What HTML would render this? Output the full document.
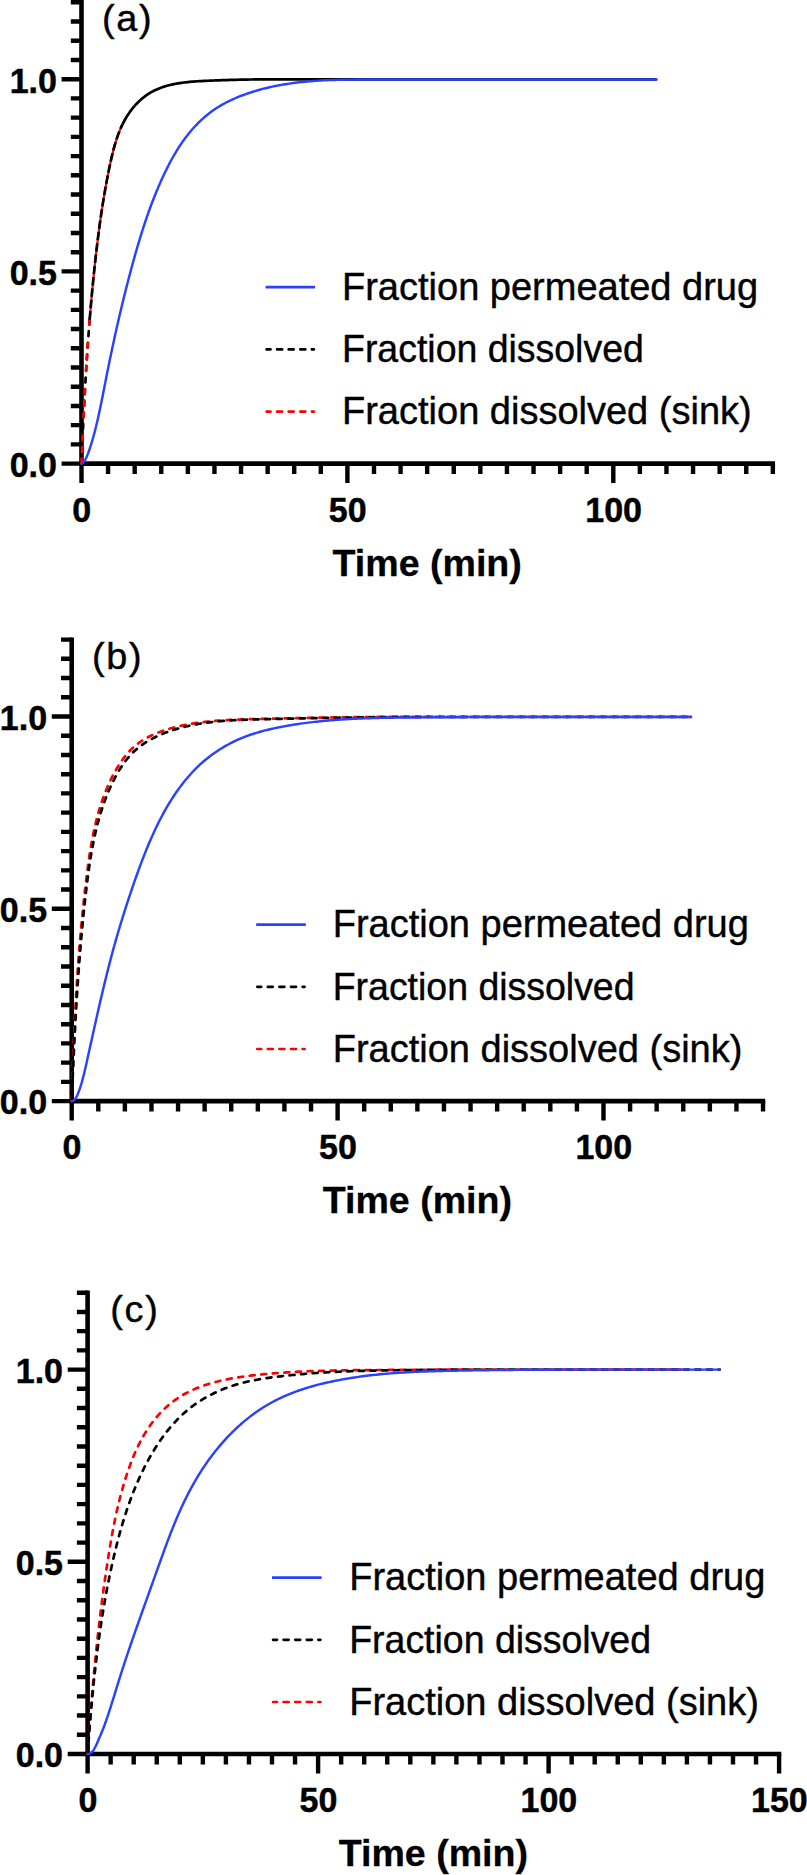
<!DOCTYPE html><html><head><meta charset="utf-8"><title>Dissolution and permeation profiles</title>
<style>html,body{margin:0;padding:0;background:#fff}svg{display:block}text{font-family:"Liberation Sans", Arial, Helvetica, sans-serif;fill:#000}.tk{font-weight:700;font-size:35.8px;stroke:#000;stroke-width:.5px}.ti{font-weight:700;font-size:37.6px;stroke:#000;stroke-width:.3px}.lg{font-size:38px;stroke:#000;stroke-width:.4px}.pl{font-size:37.8px;letter-spacing:1.7px;stroke:#000;stroke-width:.4px}</style></head><body>
<svg width="807" height="1875" viewBox="0 0 807 1875" role="img" aria-label="Fraction dissolved and permeated versus time, panels a to c">
<rect width="807" height="1875" fill="#fff"/>
<g>
<g stroke="#000" fill="none" stroke-linecap="butt">
<path stroke-width="4.60" d="M81.50 0.12 V465.90"/>
<path stroke-width="4.60" d="M79.20 463.60 H775.04"/>
<path stroke-width="4.40" d="M81.50 463.60 H61.60M81.50 444.38 H70.80M81.50 425.16 H70.80M81.50 405.94 H70.80M81.50 386.72 H70.80M81.50 367.50 H70.80M81.50 348.28 H70.80M81.50 329.06 H70.80M81.50 309.84 H70.80M81.50 290.62 H70.80M81.50 271.40 H61.60M81.50 252.18 H70.80M81.50 232.96 H70.80M81.50 213.74 H70.80M81.50 194.52 H70.80M81.50 175.30 H70.80M81.50 156.08 H70.80M81.50 136.86 H70.80M81.50 117.64 H70.80M81.50 98.42 H70.80M81.50 79.20 H61.60M81.50 59.98 H70.80M81.50 40.76 H70.80M81.50 21.54 H70.80M81.50 2.32 H70.80M81.50 463.60 V483.00M108.09 463.60 V474.00M134.68 463.60 V474.00M161.27 463.60 V474.00M187.86 463.60 V474.00M214.45 463.60 V474.00M241.04 463.60 V474.00M267.63 463.60 V474.00M294.22 463.60 V474.00M320.81 463.60 V474.00M347.40 463.60 V483.00M373.99 463.60 V474.00M400.58 463.60 V474.00M427.17 463.60 V474.00M453.76 463.60 V474.00M480.35 463.60 V474.00M506.94 463.60 V474.00M533.53 463.60 V474.00M560.12 463.60 V474.00M586.71 463.60 V474.00M613.30 463.60 V483.00M639.89 463.60 V474.00M666.48 463.60 V474.00M693.07 463.60 V474.00M719.66 463.60 V474.00M746.25 463.60 V474.00M772.84 463.60 V474.00"/>
</g>
<path d="M81.50 463.60 L81.58 461.60 L81.66 459.60 L81.75 457.59 L81.83 455.59 L81.92 453.59 L82.00 451.59 L82.09 449.58 L82.17 447.58 L82.26 445.58 L82.34 443.58 L82.43 441.58 L82.52 439.57 L82.61 437.57 L82.70 435.57 L82.79 433.57 L82.88 431.57 L82.97 429.56 L83.06 427.56 L83.16 425.56 L83.25 423.56 L83.35 421.56 L83.44 419.56 L83.54 417.55 L83.64 415.55 L83.74 413.55 L83.84 411.55 L83.94 409.55 L84.04 407.55 L84.14 405.55 L84.24 403.54 L84.35 401.54 L84.45 399.54 L84.56 397.54 L84.67 395.54 L84.77 393.54 L84.88 391.54 L84.99 389.54 L85.10 387.54 L85.22 385.53 L85.33 383.53 L85.45 381.53 L85.56 379.53 L85.68 377.53 L85.80 375.53 L85.92 373.53 L86.04 371.53 L86.16 369.53 L86.29 367.53 L86.41 365.53 L86.54 363.53 L86.66 361.53 L86.79 359.53 L86.92 357.53 L87.06 355.53 L87.19 353.53 L87.32 351.53 L87.46 349.53 L87.60 347.53 L87.74 345.53 L87.88 343.54 L88.02 341.54 L88.16 339.54 L88.31 337.54 L88.46 335.54 L88.60 333.54 L88.75 331.54 L88.91 329.55 L89.06 327.55 L89.21 325.55 L89.37 323.55 L89.53 321.55 L89.69 319.56" fill="none" stroke="#000000" stroke-width="2.70" stroke-dasharray="5 6.6" stroke-linecap="round"/>
<path d="M81.50 463.60 L81.58 461.60 L81.66 459.60 L81.75 457.59 L81.83 455.59 L81.92 453.59 L82.00 451.59 L82.09 449.58 L82.17 447.58 L82.26 445.58 L82.34 443.58 L82.43 441.58 L82.52 439.57 L82.61 437.57 L82.70 435.57 L82.79 433.57 L82.88 431.57 L82.97 429.56 L83.06 427.56 L83.16 425.56 L83.25 423.56 L83.35 421.56 L83.44 419.56 L83.54 417.55 L83.64 415.55 L83.74 413.55 L83.84 411.55 L83.94 409.55 L84.04 407.55 L84.14 405.55 L84.24 403.54 L84.35 401.54 L84.45 399.54 L84.56 397.54 L84.67 395.54 L84.77 393.54 L84.88 391.54 L84.99 389.54 L85.10 387.54 L85.22 385.53 L85.33 383.53 L85.45 381.53 L85.56 379.53 L85.68 377.53 L85.80 375.53 L85.92 373.53 L86.04 371.53 L86.16 369.53 L86.29 367.53 L86.41 365.53 L86.54 363.53 L86.66 361.53 L86.79 359.53 L86.92 357.53 L87.06 355.53 L87.19 353.53 L87.32 351.53 L87.46 349.53 L87.60 347.53 L87.74 345.53 L87.88 343.54 L88.02 341.54 L88.16 339.54 L88.31 337.54 L88.46 335.54 L88.60 333.54 L88.75 331.54 L88.91 329.55 L89.06 327.55 L89.21 325.55 L89.37 323.55 L89.53 321.55 L89.69 319.56" fill="none" stroke="#ff0000" stroke-width="2.60" stroke-dasharray="5 6.6 5 6.6 5 18.2" stroke-linecap="round"/>
<path d="M89.69 319.56 L89.85 317.56 L90.01 315.56 L90.18 313.56 L90.35 311.57 L90.52 309.57 L90.69 307.57 L90.86 305.58 L91.03 303.58 L91.21 301.59 L91.39 299.59 L91.57 297.59 L91.75 295.60 L91.94 293.60 L92.12 291.61 L92.31 289.61 L92.50 287.62 L92.69 285.62 L92.89 283.63 L93.08 281.63 L93.28 279.64 L93.48 277.65 L93.69 275.65 L93.89 273.66 L94.10 271.67 L94.31 269.67 L94.52 267.68 L94.74 265.69 L94.95 263.69 L95.17 261.70 L95.39 259.71 L95.61 257.72 L95.84 255.73 L96.07 253.74 L96.30 251.75 L96.53 249.76 L96.77 247.77 L97.00 245.78 L97.24 243.79 L97.49 241.80 L97.73 239.81 L97.98 237.82 L98.23 235.83 L98.49 233.84 L98.75 231.86 L99.01 229.87 L99.27 227.88 L99.54 225.90 L99.81 223.91 L100.09 221.93 L100.37 219.94 L100.65 217.96 L100.94 215.98 L101.23 213.99 L101.52 212.01 L101.82 210.03 L102.12 208.05 L102.43 206.07 L102.74 204.09 L103.06 202.11 L103.38 200.13 L103.70 198.15 L104.03 196.18 L104.37 194.20 L104.71 192.23 L105.05 190.25 L105.40 188.28 L105.76 186.31 L106.11 184.34 L106.48 182.36 L106.85 180.40 L107.22 178.43 L107.61 176.46 L107.99 174.49 L108.38 172.53 L108.78 170.56 L109.18 168.60 L109.59 166.64 L110.01 164.68 L110.43 162.72 L110.86 160.76 L111.29 158.81 L111.74 156.85 L112.20 154.90 L112.67 152.95 L113.16 151.01 L113.66 149.07 L114.18 147.13 L114.72 145.20 L115.28 143.28 L115.86 141.36 L116.47 139.45 L117.10 137.55 L117.76 135.66 L118.46 133.78 L119.18 131.91 L119.93 130.05 L120.71 128.21 L121.54 126.38 L122.39 124.57" fill="none" stroke="#ff0000" stroke-width="2.20"/>
<path d="M89.69 319.56 L89.85 317.56 L90.01 315.56 L90.18 313.56 L90.35 311.57 L90.52 309.57 L90.69 307.57 L90.86 305.58 L91.03 303.58 L91.21 301.59 L91.39 299.59 L91.57 297.59 L91.75 295.60 L91.94 293.60 L92.12 291.61 L92.31 289.61 L92.50 287.62 L92.69 285.62 L92.89 283.63 L93.08 281.63 L93.28 279.64 L93.48 277.65 L93.69 275.65 L93.89 273.66 L94.10 271.67 L94.31 269.67 L94.52 267.68 L94.74 265.69 L94.95 263.69 L95.17 261.70 L95.39 259.71 L95.61 257.72 L95.84 255.73 L96.07 253.74 L96.30 251.75 L96.53 249.76 L96.77 247.77 L97.00 245.78 L97.24 243.79 L97.49 241.80 L97.73 239.81 L97.98 237.82 L98.23 235.83 L98.49 233.84 L98.75 231.86 L99.01 229.87 L99.27 227.88 L99.54 225.90 L99.81 223.91 L100.09 221.93 L100.37 219.94 L100.65 217.96 L100.94 215.98 L101.23 213.99 L101.52 212.01 L101.82 210.03 L102.12 208.05 L102.43 206.07 L102.74 204.09 L103.06 202.11 L103.38 200.13 L103.70 198.15 L104.03 196.18 L104.37 194.20 L104.71 192.23 L105.05 190.25 L105.40 188.28 L105.76 186.31 L106.11 184.34 L106.48 182.36 L106.85 180.40 L107.22 178.43 L107.61 176.46 L107.99 174.49 L108.38 172.53 L108.78 170.56 L109.18 168.60 L109.59 166.64 L110.01 164.68 L110.43 162.72 L110.86 160.76 L111.29 158.81 L111.74 156.85 L112.20 154.90 L112.67 152.95 L113.16 151.01 L113.66 149.07 L114.18 147.13 L114.72 145.20 L115.28 143.28 L115.86 141.36 L116.47 139.45 L117.10 137.55 L117.76 135.66 L118.46 133.78 L119.18 131.91 L119.93 130.05 L120.71 128.21 L121.54 126.38 L122.39 124.57" fill="none" stroke="#000000" stroke-width="2.70" stroke-dasharray="8.4 3"/>
<path d="M122.39 124.57 L123.29 122.78 L124.22 121.00 L125.20 119.25 L126.21 117.52 L127.26 115.82 L128.36 114.14 L129.49 112.49 L130.67 110.86 L131.88 109.27 L133.13 107.71 L134.43 106.18 L135.76 104.68 L137.14 103.22 L138.55 101.81 L140.01 100.43 L141.50 99.09 L143.04 97.81 L144.61 96.57 L146.23 95.38 L147.89 94.25 L149.58 93.18 L151.31 92.17 L153.07 91.21 L154.86 90.31 L156.68 89.47 L158.52 88.69 L160.39 87.95 L162.27 87.27 L164.17 86.64 L166.09 86.05 L168.02 85.51 L169.96 85.01 L171.91 84.56 L173.87 84.14 L175.84 83.75 L177.81 83.40 L179.79 83.08 L181.77 82.79 L183.76 82.53 L185.75 82.29 L187.74 82.07 L189.73 81.88 L191.73 81.70 L193.73 81.54 L195.73 81.40 L197.73 81.27 L199.73 81.15 L201.73 81.04 L203.73 80.94 L205.73 80.84 L207.73 80.76 L209.73 80.67 L211.74 80.59 L213.74 80.51 L215.74 80.43 L217.74 80.36 L219.75 80.29 L221.75 80.22 L223.75 80.15 L225.76 80.09 L227.76 80.03 L229.76 79.97 L231.77 79.91 L233.77 79.86 L235.77 79.81 L237.78 79.76 L239.78 79.71 L241.78 79.67 L243.79 79.63 L245.79 79.59 L247.79 79.55 L249.80 79.52 L251.80 79.48 L253.80 79.45 L255.81 79.42 L257.81 79.40 L259.82 79.40 L261.82 79.39 L263.82 79.39 L265.83 79.39 L267.83 79.39 L269.84 79.39 L271.84 79.40 L273.84 79.40 L275.85 79.40 L277.85 79.40 L279.85 79.40 L281.86 79.40 L283.86 79.40 L285.87 79.40 L287.87 79.40 L289.87 79.40 L291.88 79.40 L293.88 79.40 L295.89 79.40 L297.89 79.40 L299.89 79.40 L301.90 79.40 L303.90 79.40 L305.91 79.40 L307.91 79.40 L309.91 79.40 L311.92 79.40 L313.92 79.40 L315.93 79.40 L317.93 79.40 L319.93 79.40 L321.94 79.40 L323.94 79.40 L325.95 79.40 L327.95 79.40 L329.95 79.40 L331.96 79.40 L333.96 79.40 L335.97 79.40 L337.97 79.40 L339.97 79.40 L341.98 79.40 L343.98 79.40 L345.99 79.40 L347.99 79.40 L349.99 79.40 L352.00 79.40 L354.00 79.40 L356.01 79.40 L358.01 79.40 L360.01 79.40 L362.02 79.40 L364.02 79.40 L366.03 79.40 L368.03 79.40 L370.03 79.40 L372.04 79.40 L374.04 79.40 L376.05 79.40 L378.05 79.40 L380.05 79.40 L382.06 79.40 L384.06 79.40 L386.06 79.40 L388.07 79.40 L390.07 79.40 L392.08 79.40 L394.08 79.40 L396.08 79.40 L398.09 79.40 L400.09 79.40 L402.10 79.40 L404.10 79.40 L406.10 79.40 L408.11 79.40 L410.11 79.40 L412.12 79.40 L414.12 79.40 L416.12 79.40 L418.13 79.40 L420.13 79.40 L422.14 79.40 L424.14 79.40 L426.14 79.40 L428.15 79.40 L430.15 79.40 L432.16 79.40 L434.16 79.40 L436.16 79.40 L438.17 79.40 L440.17 79.40 L442.18 79.40 L444.18 79.40 L446.18 79.40 L448.19 79.40 L450.19 79.40 L452.20 79.40 L454.20 79.40 L456.20 79.40 L458.21 79.40 L460.21 79.40 L462.22 79.40 L464.22 79.40 L466.22 79.40 L468.23 79.40 L470.23 79.40 L472.24 79.40 L474.24 79.40 L476.24 79.40 L478.25 79.40 L480.25 79.40 L482.26 79.40 L484.26 79.40 L486.26 79.40 L488.27 79.40 L490.27 79.40 L492.27 79.40 L494.28 79.40 L496.28 79.40 L498.29 79.40 L500.29 79.40 L502.29 79.40 L504.30 79.40 L506.30 79.40 L508.31 79.40 L510.31 79.40 L512.31 79.40 L514.32 79.40 L516.32 79.40 L518.33 79.40 L520.33 79.40 L522.33 79.40 L524.34 79.40 L526.34 79.40 L528.35 79.40 L530.35 79.40 L532.35 79.40 L534.36 79.40 L536.36 79.40 L538.37 79.40 L540.37 79.40 L542.37 79.40 L544.38 79.40 L546.38 79.40 L548.39 79.40 L550.39 79.40 L552.39 79.40 L554.40 79.40 L556.40 79.40 L558.41 79.40 L560.41 79.40 L562.41 79.40 L564.42 79.40 L566.42 79.40 L568.43 79.40 L570.43 79.40 L572.43 79.40 L574.44 79.40 L576.44 79.40 L578.45 79.40 L580.45 79.40 L582.45 79.40 L584.46 79.40 L586.46 79.40 L588.47 79.40 L590.47 79.40 L592.47 79.40 L594.48 79.40 L596.48 79.40 L598.48 79.40 L600.49 79.40 L602.49 79.40 L604.50 79.40 L606.50 79.40 L608.50 79.40 L610.51 79.40 L612.51 79.40 L614.52 79.40 L616.52 79.40 L618.52 79.40 L620.53 79.40 L622.53 79.40 L624.54 79.40 L626.54 79.40 L628.54 79.40 L630.55 79.40 L632.55 79.40 L634.56 79.40 L636.56 79.40 L638.56 79.40 L640.57 79.40 L642.57 79.40 L644.58 79.40 L646.58 79.40 L648.58 79.40 L650.59 79.40 L652.59 79.40 L654.60 79.40 L656.60 79.40" fill="none" stroke="#000000" stroke-width="2.70"/>
<path d="M81.50 463.60 L81.90 463.55 L82.30 463.39 L82.71 463.12 L83.13 462.76 L83.56 462.31 L83.99 461.76 L84.42 461.13 L84.87 460.42 L85.31 459.63 L85.76 458.77 L86.21 457.84 L86.66 456.84 L87.12 455.78 L87.58 454.66 L88.03 453.49 L88.49 452.27 L88.95 451.01 L89.40 449.70 L89.86 448.36 L90.31 446.99 L90.76 445.58 L91.20 444.16 L91.64 442.71 L92.08 441.24 L92.51 439.76 L92.94 438.28 L93.36 436.79 L93.77 435.30 L94.17 433.81 L94.57 432.33 L95.08 430.39 L95.57 428.45 L96.05 426.50 L96.52 424.56 L96.98 422.61 L97.43 420.66 L97.87 418.70 L98.31 416.75 L98.74 414.79 L99.17 412.84 L99.59 410.88 L100.00 408.92 L100.41 406.96 L100.82 405.00 L101.22 403.03 L101.61 401.07 L102.01 399.11 L102.40 397.14 L102.79 395.18 L103.18 393.21 L103.56 391.25 L103.95 389.28 L104.33 387.32 L104.72 385.35 L105.10 383.38 L105.49 381.42 L105.87 379.45 L106.26 377.49 L106.65 375.52 L107.04 373.56 L107.44 371.59 L107.83 369.63 L108.23 367.67 L108.62 365.70 L109.02 363.74 L109.43 361.78 L109.83 359.82 L110.24 357.86 L110.65 355.90 L111.06 353.93 L111.47 351.97 L111.88 350.02 L112.30 348.06 L112.72 346.10 L113.14 344.14 L113.56 342.18 L113.98 340.22 L114.41 338.27 L114.84 336.31 L115.27 334.35 L115.71 332.40 L116.14 330.44 L116.58 328.49 L117.02 326.54 L117.46 324.58 L117.91 322.63 L118.36 320.68 L118.81 318.73 L119.26 316.77 L119.71 314.82 L120.17 312.87 L120.63 310.92 L121.09 308.98 L121.56 307.03 L122.03 305.08 L122.50 303.13 L122.97 301.19 L123.45 299.24 L123.92 297.30 L124.41 295.35 L124.89 293.41 L125.38 291.46 L125.86 289.52 L126.36 287.58 L126.85 285.64 L127.35 283.70 L127.85 281.76 L128.35 279.82 L128.86 277.88 L129.37 275.95 L129.88 274.01 L130.39 272.07 L130.91 270.14 L131.43 268.20 L131.95 266.27 L132.48 264.34 L133.01 262.41 L133.54 260.48 L134.08 258.55 L134.62 256.62 L135.16 254.69 L135.71 252.76 L136.26 250.84 L136.82 248.91 L137.38 246.99 L137.94 245.07 L138.51 243.15 L139.09 241.23 L139.67 239.31 L140.25 237.40 L140.84 235.48 L141.44 233.57 L142.04 231.66 L142.65 229.75 L143.26 227.84 L143.88 225.94 L144.50 224.04 L145.14 222.14 L145.77 220.24 L146.42 218.34 L147.07 216.45 L147.73 214.56 L148.40 212.67 L149.07 210.78 L149.75 208.90 L150.44 207.02 L151.14 205.14 L151.85 203.27 L152.56 201.39 L153.28 199.53 L154.01 197.66 L154.75 195.80 L155.50 193.94 L156.26 192.09 L157.02 190.24 L157.80 188.39 L158.58 186.55 L159.37 184.71 L160.18 182.87 L160.99 181.04 L161.81 179.21 L162.65 177.39 L163.49 175.58 L164.34 173.76 L165.21 171.96 L166.08 170.16 L166.97 168.36 L167.88 166.57 L168.79 164.79 L169.72 163.02 L170.66 161.25 L171.62 159.49 L172.59 157.74 L173.58 156.00 L174.59 154.27 L175.61 152.54 L176.65 150.83 L177.71 149.13 L178.78 147.44 L179.88 145.76 L180.99 144.10 L182.12 142.45 L183.28 140.81 L184.45 139.19 L185.64 137.58 L186.86 135.98 L188.09 134.41 L189.35 132.85 L190.63 131.31 L191.93 129.79 L193.26 128.28 L194.60 126.80 L195.97 125.34 L197.36 123.90 L198.77 122.48 L200.21 121.08 L201.67 119.71 L203.15 118.36 L204.66 117.04 L206.18 115.74 L207.73 114.48 L209.31 113.24 L210.90 112.03 L212.52 110.85 L214.16 109.70 L215.83 108.58 L217.51 107.50 L219.21 106.44 L220.94 105.42 L222.67 104.43 L224.43 103.46 L226.20 102.53 L227.99 101.62 L229.79 100.74 L231.60 99.88 L233.42 99.05 L235.25 98.25 L237.10 97.47 L238.95 96.71 L240.82 95.97 L242.69 95.26 L244.57 94.57 L246.45 93.89 L248.35 93.24 L250.24 92.60 L252.15 91.99 L254.06 91.39 L255.98 90.81 L257.90 90.25 L259.83 89.71 L261.77 89.19 L263.70 88.68 L265.65 88.20 L267.59 87.73 L269.55 87.27 L271.50 86.84 L273.46 86.42 L275.42 86.02 L277.39 85.63 L279.35 85.26 L281.32 84.90 L283.30 84.56 L285.27 84.23 L287.25 83.92 L289.23 83.62 L291.22 83.34 L293.20 83.07 L295.19 82.81 L297.18 82.57 L299.17 82.33 L301.16 82.11 L303.15 81.91 L305.14 81.71 L307.14 81.52 L309.13 81.35 L311.13 81.18 L313.12 81.03 L315.12 80.89 L317.12 80.75 L319.12 80.63 L321.12 80.51 L323.12 80.40 L325.12 80.30 L327.12 80.21 L329.12 80.13 L331.12 80.05 L333.13 79.98 L335.13 79.92 L337.13 79.86 L339.13 79.81 L341.13 79.77 L343.14 79.73 L345.14 79.69 L347.14 79.66 L349.14 79.64 L351.15 79.62 L353.15 79.60 L355.15 79.59 L357.16 79.58 L359.16 79.57 L361.16 79.57 L363.17 79.56 L365.17 79.56 L367.17 79.56 L369.17 79.56 L371.18 79.55 L373.18 79.55 L375.18 79.55 L377.19 79.55 L379.19 79.55 L381.19 79.54 L383.19 79.54 L385.20 79.54 L387.20 79.54 L389.20 79.54 L391.21 79.53 L393.21 79.53 L395.21 79.53 L397.22 79.53 L399.22 79.53 L401.22 79.52 L403.22 79.52 L405.23 79.52 L407.23 79.52 L409.23 79.51 L411.24 79.51 L413.24 79.51 L415.24 79.51 L417.25 79.51 L419.25 79.50 L421.25 79.50 L423.25 79.50 L425.26 79.50 L427.26 79.50 L429.26 79.49 L431.27 79.49 L433.27 79.49 L435.27 79.49 L437.28 79.49 L439.28 79.48 L441.28 79.48 L443.28 79.48 L445.29 79.48 L447.29 79.48 L449.29 79.47 L451.30 79.47 L453.30 79.47 L455.30 79.47 L457.30 79.46 L459.31 79.46 L461.31 79.46 L463.31 79.46 L465.32 79.46 L467.32 79.45 L469.32 79.45 L471.33 79.45 L473.33 79.45 L475.33 79.45 L477.33 79.44 L479.34 79.44 L481.34 79.44 L483.34 79.44 L485.35 79.44 L487.35 79.43 L489.35 79.43 L491.36 79.43 L493.36 79.43 L495.36 79.43 L497.36 79.42 L499.37 79.42 L501.37 79.42 L503.37 79.42 L505.38 79.42 L507.38 79.41 L509.38 79.41 L511.38 79.41 L513.39 79.41 L515.39 79.40 L517.39 79.40 L519.40 79.40 L521.40 79.40 L523.40 79.40 L525.41 79.40 L527.41 79.40 L529.41 79.40 L531.41 79.40 L533.42 79.40 L535.42 79.40 L537.42 79.40 L539.43 79.40 L541.43 79.40 L543.43 79.40 L545.44 79.40 L547.44 79.40 L549.44 79.40 L551.44 79.40 L553.45 79.40 L555.45 79.40 L557.45 79.40 L559.46 79.40 L561.46 79.40 L563.46 79.40 L565.47 79.40 L567.47 79.40 L569.47 79.40 L571.47 79.40 L573.48 79.40 L575.48 79.40 L577.48 79.40 L579.49 79.40 L581.49 79.40 L583.49 79.40 L585.49 79.40 L587.50 79.40 L589.50 79.40 L591.50 79.40 L593.51 79.40 L595.51 79.40 L597.51 79.40 L599.52 79.40 L601.52 79.40 L603.52 79.40 L605.52 79.40 L607.53 79.40 L609.53 79.40 L611.53 79.40 L613.54 79.40 L615.54 79.40 L617.54 79.40 L619.55 79.40 L621.55 79.40 L623.55 79.40 L625.55 79.40 L627.56 79.40 L629.56 79.40 L631.56 79.40 L633.57 79.40 L635.57 79.40 L637.57 79.40 L639.57 79.40 L641.58 79.40 L643.58 79.40 L645.58 79.40 L647.59 79.40 L649.59 79.40 L651.59 79.40 L653.60 79.40 L655.60 79.40 L656.60 79.40" fill="none" stroke="#2942ff" stroke-width="2.45" stroke-linecap="round"/>
<text class="tk" text-anchor="end" transform="translate(56.90 476.90) scale(0.950 1)">0.0</text>
<text class="tk" text-anchor="end" transform="translate(56.90 284.70) scale(0.950 1)">0.5</text>
<text class="tk" text-anchor="end" transform="translate(56.90 92.50) scale(0.950 1)">1.0</text>
<text class="tk" text-anchor="middle" transform="translate(81.80 521.90) scale(0.950 1)">0</text>
<text class="tk" text-anchor="middle" transform="translate(347.70 521.90) scale(0.950 1)">50</text>
<text class="tk" text-anchor="middle" transform="translate(613.60 521.90) scale(0.950 1)">100</text>
<text class="ti" text-anchor="middle" x="427.17" y="575.70">Time (min)</text>
<text class="pl" x="102.00" y="31.00">(a)</text>
<path d="M265.50 287.20 H315.10" stroke="#2942ff" stroke-width="2.70" fill="none"/>
<text class="lg" transform="translate(342.00 300.00) scale(1.000 1)">Fraction permeated drug</text>
<path d="M266.60 349.40 H313.90" stroke="#000000" stroke-width="2.70" fill="none" stroke-linecap="round" stroke-dasharray="5 6.6" stroke-dashoffset="1.1"/>
<text class="lg" transform="translate(342.00 362.20) scale(0.986 1)">Fraction dissolved</text>
<path d="M266.60 411.60 H313.90" stroke="#ff0000" stroke-width="2.70" fill="none" stroke-linecap="round" stroke-dasharray="5 6.6" stroke-dashoffset="1.1"/>
<text class="lg" transform="translate(342.00 424.40) scale(1.000 1)">Fraction dissolved (sink)</text>
</g>
<g>
<g stroke="#000" fill="none" stroke-linecap="butt">
<path stroke-width="4.60" d="M71.70 637.38 V1103.40"/>
<path stroke-width="4.60" d="M69.40 1101.10 H765.24"/>
<path stroke-width="4.40" d="M71.70 1101.10 H51.80M71.70 1081.87 H61.00M71.70 1062.64 H61.00M71.70 1043.41 H61.00M71.70 1024.18 H61.00M71.70 1004.95 H61.00M71.70 985.72 H61.00M71.70 966.49 H61.00M71.70 947.26 H61.00M71.70 928.03 H61.00M71.70 908.80 H51.80M71.70 889.57 H61.00M71.70 870.34 H61.00M71.70 851.11 H61.00M71.70 831.88 H61.00M71.70 812.65 H61.00M71.70 793.42 H61.00M71.70 774.19 H61.00M71.70 754.96 H61.00M71.70 735.73 H61.00M71.70 716.50 H51.80M71.70 697.27 H61.00M71.70 678.04 H61.00M71.70 658.81 H61.00M71.70 639.58 H61.00M71.70 1101.10 V1120.50M98.29 1101.10 V1111.50M124.88 1101.10 V1111.50M151.47 1101.10 V1111.50M178.06 1101.10 V1111.50M204.65 1101.10 V1111.50M231.24 1101.10 V1111.50M257.83 1101.10 V1111.50M284.42 1101.10 V1111.50M311.01 1101.10 V1111.50M337.60 1101.10 V1120.50M364.19 1101.10 V1111.50M390.78 1101.10 V1111.50M417.37 1101.10 V1111.50M443.96 1101.10 V1111.50M470.55 1101.10 V1111.50M497.14 1101.10 V1111.50M523.73 1101.10 V1111.50M550.32 1101.10 V1111.50M576.91 1101.10 V1111.50M603.50 1101.10 V1120.50M630.09 1101.10 V1111.50M656.68 1101.10 V1111.50M683.27 1101.10 V1111.50M709.86 1101.10 V1111.50M736.45 1101.10 V1111.50M763.04 1101.10 V1111.50"/>
</g>
<path d="M71.70 1101.10 L71.76 1099.10 L71.82 1097.10 L71.88 1095.09 L71.94 1093.09 L72.00 1091.09 L72.06 1089.09 L72.12 1087.08 L72.18 1085.08 L72.25 1083.08 L72.31 1081.08 L72.38 1079.08 L72.44 1077.07 L72.51 1075.07 L72.58 1073.07 L72.65 1071.07 L72.72 1069.07 L72.79 1067.07 L72.86 1065.06 L72.93 1063.06 L73.01 1061.06 L73.08 1059.06 L73.16 1057.06 L73.23 1055.06 L73.31 1053.05 L73.39 1051.05 L73.47 1049.05 L73.55 1047.05 L73.63 1045.05 L73.72 1043.05 L73.80 1041.05 L73.89 1039.04 L73.98 1037.04 L74.07 1035.04 L74.16 1033.04 L74.25 1031.04 L74.34 1029.04 L74.43 1027.04 L74.53 1025.04 L74.62 1023.04 L74.72 1021.04 L74.82 1019.03 L74.92 1017.03 L75.02 1015.03 L75.13 1013.03 L75.23 1011.03 L75.34 1009.03 L75.45 1007.03 L75.56 1005.03 L75.67 1003.03 L75.78 1001.03 L75.90 999.03 L76.01 997.03 L76.13 995.03 L76.25 993.03 L76.37 991.03 L76.49 989.04 L76.62 987.04 L76.74 985.04 L76.87 983.04 L77.00 981.04 L77.13 979.04 L77.26 977.04 L77.40 975.04 L77.53 973.04 L77.67 971.05 L77.81 969.05 L77.95 967.05 L78.10 965.05 L78.24 963.05 L78.39 961.06 L78.54 959.06 L78.69 957.06 L78.84 955.06 L79.00 953.07 L79.16 951.07 L79.32 949.07 L79.48 947.08 L79.64 945.08 L79.81 943.08 L79.97 941.09 L80.14 939.09 L80.31 937.10 L80.49 935.10 L80.66 933.11 L80.84 931.11 L81.02 929.12 L81.21 927.12 L81.39 925.13 L81.58 923.13 L81.77 921.14 L81.96 919.14 L82.15 917.15 L82.35 915.16 L82.55 913.16 L82.75 911.17 L82.95 909.18 L83.15 907.19 L83.36 905.19 L83.57 903.20 L83.78 901.21 L84.00 899.22 L84.22 897.23 L84.44 895.24 L84.66 893.25 L84.88 891.25 L85.11 889.26 L85.34 887.27 L85.57 885.29 L85.80 883.30 L86.04 881.31 L86.28 879.32 L86.52 877.33 L86.77 875.34 L87.02 873.35 L87.27 871.37 L87.53 869.38 L87.79 867.39 L88.05 865.41 L88.33 863.42 L88.60 861.44 L88.89 859.46 L89.18 857.48 L89.47 855.50 L89.78 853.52 L90.09 851.54 L90.41 849.56 L90.74 847.58 L91.07 845.61 L91.42 843.64 L91.77 841.66 L92.14 839.69 L92.51 837.73 L92.90 835.76 L93.29 833.80 L93.70 831.84 L94.12 829.88 L94.55 827.92 L95.00 825.97 L95.46 824.02 L95.93 822.07 L96.41 820.13 L96.91 818.19 L97.42 816.25 L97.95 814.32 L98.49 812.39 L99.05 810.47 L99.62 808.55 L100.21 806.63 L100.82 804.73 L101.45 802.82 L102.09 800.92 L102.75 799.03 L103.42 797.15 L104.12 795.27 L104.83 793.40 L105.56 791.53 L106.32 789.68 L107.09 787.83 L107.88 785.99 L108.69 784.16 L109.52 782.33 L110.37 780.52 L111.24 778.72 L112.13 776.92 L113.05 775.14 L113.99 773.37 L114.95 771.61 L115.94 769.87 L116.95 768.14 L117.99 766.43 L119.06 764.74 L120.16 763.06 L121.29 761.41 L122.45 759.78 L123.64 758.17 L124.87 756.59 L126.13 755.03 L127.43 753.51 L128.77 752.01 L130.14 750.55 L131.55 749.13 L133.00 747.75 L134.48 746.41 L136.01 745.11 L137.58 743.86 L139.18 742.66 L140.81 741.50 L142.49 740.40 L144.19 739.34 L145.92 738.33 L147.67 737.36 L149.45 736.44 L151.25 735.56 L153.06 734.71 L154.89 733.90 L156.74 733.13 L158.61 732.40 L160.48 731.69 L162.37 731.01 L164.26 730.37 L166.17 729.75 L168.08 729.15 L170.00 728.58 L171.93 728.04 L173.86 727.51 L175.80 727.01 L177.74 726.53 L179.69 726.07 L181.65 725.63 L183.61 725.21 L185.57 724.81 L187.54 724.43 L189.51 724.07 L191.48 723.73 L193.46 723.41 L195.44 723.10 L197.42 722.81 L199.40 722.53 L201.39 722.27 L203.38 722.03 L205.37 721.80 L207.36 721.58 L209.35 721.38 L211.34 721.19 L213.34 721.01 L215.34 720.84 L217.33 720.69 L219.33 720.54 L221.33 720.41 L223.33 720.28 L225.33 720.16 L227.33 720.05 L229.33 719.95 L231.33 719.86 L233.33 719.77 L235.33 719.68 L237.33 719.61 L239.33 719.53 L241.34 719.47 L243.34 719.40 L245.34 719.34 L247.34 719.28 L249.35 719.23 L251.35 719.17 L253.35 719.12 L255.35 719.06 L257.35 719.01 L259.36 718.96 L261.36 718.91 L263.36 718.86 L265.36 718.81 L267.37 718.76 L269.37 718.71 L271.37 718.66 L273.37 718.61 L275.38 718.56 L277.38 718.52 L279.38 718.47 L281.38 718.43 L283.39 718.38 L285.39 718.34 L287.39 718.29 L289.39 718.25 L291.40 718.21 L293.40 718.17 L295.40 718.13 L297.41 718.09 L299.41 718.05 L301.41 718.01 L303.41 717.97 L305.42 717.93 L307.42 717.89 L309.42 717.86 L311.42 717.82 L313.43 717.79 L315.43 717.75 L317.43 717.72 L319.44 717.68 L321.44 717.65 L323.44 717.62 L325.44 717.59 L327.45 717.55 L329.45 717.52 L331.45 717.49 L333.46 717.46 L335.46 717.43 L337.46 717.41 L339.46 717.38 L341.47 717.35 L343.47 717.32 L345.47 717.30 L347.48 717.27 L349.48 717.25 L351.48 717.22 L353.48 717.20 L355.49 717.17 L357.49 717.15 L359.49 717.13 L361.50 717.11 L363.50 717.09 L365.50 717.07 L367.50 717.05 L369.51 717.03 L371.51 717.01 L373.51 716.99 L375.52 716.97 L377.52 716.95 L379.52 716.94 L381.53 716.92 L383.53 716.90 L385.53 716.89 L387.53 716.87 L389.54 716.86 L391.54 716.85 L393.54 716.83 L395.55 716.82 L397.55 716.81 L399.55 716.80 L401.56 716.80 L403.56 716.80 L405.56 716.80 L407.57 716.80 L409.57 716.80 L411.57 716.80 L413.57 716.80 L415.58 716.80 L417.58 716.80 L419.58 716.80 L421.59 716.80 L423.59 716.80 L425.59 716.80 L427.60 716.80 L429.60 716.80 L431.60 716.80 L433.61 716.80 L435.61 716.80 L437.61 716.80 L439.61 716.80 L441.62 716.80 L443.62 716.80 L445.62 716.80 L447.63 716.80 L449.63 716.80 L451.63 716.80 L453.64 716.80 L455.64 716.80 L457.64 716.80 L459.65 716.80 L461.65 716.80 L463.65 716.80 L465.65 716.80 L467.66 716.80 L469.66 716.80 L471.66 716.80 L473.67 716.80 L475.67 716.80 L477.67 716.80 L479.68 716.80 L481.68 716.80 L483.68 716.80 L485.68 716.80 L487.69 716.80 L489.69 716.80 L491.69 716.80 L493.70 716.80 L495.70 716.80 L497.70 716.80 L499.71 716.80 L501.71 716.80 L503.71 716.80 L505.72 716.80 L507.72 716.80 L509.72 716.80 L511.72 716.80 L513.73 716.80 L515.73 716.80 L517.73 716.80 L519.74 716.80 L521.74 716.80 L523.74 716.80 L525.75 716.80 L527.75 716.80 L529.75 716.80 L531.76 716.80 L533.76 716.80 L535.76 716.80 L537.76 716.80 L539.77 716.80 L541.77 716.80 L543.77 716.80 L545.78 716.80 L547.78 716.80 L549.78 716.80 L551.79 716.80 L553.79 716.80 L555.79 716.80 L557.80 716.80 L559.80 716.80 L561.80 716.80 L563.80 716.80 L565.81 716.80 L567.81 716.80 L569.81 716.80 L571.82 716.80 L573.82 716.80 L575.82 716.80 L577.83 716.80 L579.83 716.80 L581.83 716.80 L583.84 716.80 L585.84 716.80 L587.84 716.80 L589.84 716.80 L591.85 716.80 L593.85 716.80 L595.85 716.80 L597.86 716.80 L599.86 716.80 L601.86 716.80 L603.87 716.80 L605.87 716.80 L607.87 716.80 L609.88 716.80 L611.88 716.80 L613.88 716.80 L615.88 716.80 L617.89 716.80 L619.89 716.80 L621.89 716.80 L623.90 716.80 L625.90 716.80 L627.90 716.80 L629.91 716.80 L631.91 716.80 L633.91 716.80 L635.92 716.80 L637.92 716.80 L639.92 716.80 L641.92 716.80 L643.93 716.80 L645.93 716.80 L647.93 716.80 L649.94 716.80 L651.94 716.80 L653.94 716.80 L655.95 716.80 L657.95 716.80 L659.95 716.80 L661.96 716.80 L663.96 716.80 L665.96 716.80 L667.96 716.80 L669.97 716.80 L671.97 716.80 L673.97 716.80 L675.98 716.80 L677.98 716.80 L679.98 716.80 L681.99 716.80 L683.99 716.80 L685.99 716.80 L688.00 716.80 L690.00 716.80 L691.00 716.80" fill="none" stroke="#ff0000" stroke-width="2.70" stroke-dasharray="5 6.6" stroke-linecap="round"/>
<path d="M71.70 1101.10 L71.78 1099.10 L71.87 1097.10 L71.95 1095.09 L72.04 1093.09 L72.12 1091.09 L72.20 1089.09 L72.29 1087.09 L72.38 1085.09 L72.46 1083.08 L72.55 1081.08 L72.63 1079.08 L72.72 1077.08 L72.81 1075.08 L72.90 1073.08 L72.99 1071.07 L73.08 1069.07 L73.17 1067.07 L73.26 1065.07 L73.35 1063.07 L73.44 1061.07 L73.53 1059.07 L73.63 1057.06 L73.72 1055.06 L73.81 1053.06 L73.91 1051.06 L74.01 1049.06 L74.10 1047.06 L74.20 1045.06 L74.30 1043.05 L74.40 1041.05 L74.50 1039.05 L74.60 1037.05 L74.70 1035.05 L74.81 1033.05 L74.91 1031.05 L75.02 1029.05 L75.12 1027.05 L75.23 1025.05 L75.34 1023.05 L75.45 1021.05 L75.56 1019.05 L75.67 1017.04 L75.79 1015.04 L75.90 1013.04 L76.02 1011.04 L76.13 1009.04 L76.25 1007.04 L76.37 1005.04 L76.49 1003.04 L76.61 1001.04 L76.74 999.04 L76.86 997.04 L76.99 995.04 L77.12 993.05 L77.25 991.05 L77.38 989.05 L77.51 987.05 L77.64 985.05 L77.78 983.05 L77.92 981.05 L78.06 979.05 L78.20 977.05 L78.34 975.05 L78.48 973.06 L78.63 971.06 L78.77 969.06 L78.92 967.06 L79.07 965.06 L79.23 963.07 L79.38 961.07 L79.53 959.07 L79.69 957.07 L79.85 955.08 L80.01 953.08 L80.18 951.08 L80.34 949.09 L80.51 947.09 L80.68 945.09 L80.85 943.10 L81.02 941.10 L81.20 939.10 L81.38 937.11 L81.55 935.11 L81.74 933.12 L81.92 931.12 L82.11 929.13 L82.29 927.13 L82.48 925.14 L82.68 923.14 L82.87 921.15 L83.07 919.16 L83.27 917.16 L83.47 915.17 L83.67 913.18 L83.88 911.18 L84.08 909.19 L84.29 907.20 L84.51 905.21 L84.72 903.21 L84.94 901.22 L85.16 899.23 L85.38 897.24 L85.61 895.25 L85.83 893.26 L86.06 891.27 L86.30 889.28 L86.53 887.29 L86.77 885.30 L87.01 883.31 L87.26 881.32 L87.51 879.33 L87.76 877.35 L88.02 875.36 L88.29 873.37 L88.56 871.39 L88.83 869.40 L89.12 867.42 L89.40 865.44 L89.70 863.46 L90.00 861.47 L90.31 859.50 L90.63 857.52 L90.95 855.54 L91.29 853.56 L91.63 851.59 L91.98 849.62 L92.34 847.65 L92.71 845.68 L93.09 843.71 L93.48 841.75 L93.88 839.78 L94.29 837.82 L94.72 835.86 L95.15 833.91 L95.60 831.95 L96.06 830.00 L96.53 828.06 L97.01 826.11 L97.51 824.17 L98.02 822.23 L98.55 820.30 L99.09 818.37 L99.64 816.45 L100.21 814.52 L100.80 812.61 L101.39 810.70 L102.01 808.79 L102.64 806.89 L103.29 804.99 L103.95 803.10 L104.64 801.22 L105.33 799.34 L106.05 797.47 L106.78 795.61 L107.54 793.75 L108.31 791.90 L109.10 790.06 L109.90 788.22 L110.73 786.40 L111.57 784.58 L112.44 782.77 L113.32 780.97 L114.22 779.19 L115.15 777.41 L116.10 775.64 L117.07 773.89 L118.06 772.15 L119.08 770.43 L120.13 768.72 L121.21 767.04 L122.33 765.37 L123.47 763.72 L124.64 762.10 L125.85 760.50 L127.10 758.93 L128.38 757.39 L129.70 755.88 L131.06 754.41 L132.46 752.98 L133.89 751.58 L135.37 750.23 L136.88 748.92 L138.43 747.64 L140.01 746.41 L141.62 745.22 L143.26 744.07 L144.93 742.96 L146.62 741.89 L148.34 740.85 L150.07 739.85 L151.83 738.89 L153.61 737.96 L155.40 737.06 L157.21 736.20 L159.03 735.37 L160.87 734.57 L162.72 733.80 L164.58 733.06 L166.45 732.34 L168.33 731.66 L170.22 730.99 L172.12 730.36 L174.03 729.75 L175.95 729.16 L177.87 728.59 L179.80 728.05 L181.73 727.53 L183.67 727.03 L185.62 726.56 L187.57 726.10 L189.53 725.67 L191.49 725.25 L193.45 724.86 L195.42 724.48 L197.39 724.12 L199.36 723.79 L201.34 723.46 L203.32 723.16 L205.30 722.87 L207.29 722.60 L209.28 722.34 L211.27 722.10 L213.26 721.87 L215.25 721.66 L217.24 721.46 L219.24 721.27 L221.23 721.09 L223.23 720.93 L225.23 720.78 L227.23 720.63 L229.22 720.50 L231.22 720.38 L233.22 720.26 L235.23 720.15 L237.23 720.06 L239.23 719.96 L241.23 719.88 L243.23 719.80 L245.23 719.73 L247.24 719.66 L249.24 719.60 L251.24 719.54 L253.24 719.48 L255.25 719.43 L257.25 719.38 L259.25 719.33 L261.26 719.28 L263.26 719.24 L265.26 719.19 L267.27 719.15 L269.27 719.10 L271.27 719.06 L273.27 719.01 L275.28 718.97 L277.28 718.92 L279.28 718.88 L281.29 718.84 L283.29 718.79 L285.29 718.75 L287.30 718.71 L289.30 718.66 L291.30 718.62 L293.31 718.58 L295.31 718.54 L297.31 718.50 L299.31 718.46 L301.32 718.41 L303.32 718.37 L305.32 718.33 L307.33 718.29 L309.33 718.25 L311.33 718.21 L313.34 718.17 L315.34 718.14 L317.34 718.10 L319.35 718.06 L321.35 718.02 L323.35 717.99 L325.36 717.95 L327.36 717.91 L329.36 717.88 L331.37 717.84 L333.37 717.81 L335.37 717.77 L337.38 717.74 L339.38 717.70 L341.38 717.67 L343.39 717.64 L345.39 717.60 L347.39 717.57 L349.40 717.54 L351.40 717.51 L353.40 717.48 L355.41 717.45 L357.41 717.42 L359.41 717.39 L361.42 717.36 L363.42 717.33 L365.42 717.31 L367.43 717.28 L369.43 717.25 L371.43 717.23 L373.44 717.20 L375.44 717.18 L377.44 717.15 L379.45 717.13 L381.45 717.11 L383.45 717.08 L385.46 717.06 L387.46 717.04 L389.46 717.02 L391.47 717.00 L393.47 716.98 L395.47 716.96 L397.48 716.95 L399.48 716.93 L401.48 716.91 L403.49 716.90 L405.49 716.90 L407.50 716.90 L409.50 716.90 L411.50 716.90 L413.51 716.90 L415.51 716.90 L417.51 716.90 L419.52 716.90 L421.52 716.90 L423.52 716.90 L425.53 716.90 L427.53 716.90 L429.53 716.90 L431.54 716.90 L433.54 716.90 L435.54 716.90 L437.55 716.90 L439.55 716.90 L441.56 716.90 L443.56 716.90 L445.56 716.90 L447.57 716.90 L449.57 716.90 L451.57 716.90 L453.58 716.90 L455.58 716.90 L457.58 716.90 L459.59 716.90 L461.59 716.90 L463.59 716.90 L465.60 716.90 L467.60 716.90 L469.61 716.90 L471.61 716.90 L473.61 716.90 L475.62 716.90 L477.62 716.90 L479.62 716.90 L481.63 716.90 L483.63 716.90 L485.63 716.90 L487.64 716.90 L489.64 716.90 L491.64 716.90 L493.65 716.90 L495.65 716.90 L497.66 716.90 L499.66 716.90 L501.66 716.90 L503.67 716.90 L505.67 716.90 L507.67 716.90 L509.68 716.90 L511.68 716.90 L513.68 716.90 L515.69 716.90 L517.69 716.90 L519.69 716.90 L521.70 716.90 L523.70 716.90 L525.71 716.90 L527.71 716.90 L529.71 716.90 L531.72 716.90 L533.72 716.90 L535.72 716.90 L537.73 716.90 L539.73 716.90 L541.73 716.90 L543.74 716.90 L545.74 716.90 L547.74 716.90 L549.75 716.90 L551.75 716.90 L553.76 716.90 L555.76 716.90 L557.76 716.90 L559.77 716.90 L561.77 716.90 L563.77 716.90 L565.78 716.90 L567.78 716.90 L569.78 716.90 L571.79 716.90 L573.79 716.90 L575.79 716.90 L577.80 716.90 L579.80 716.90 L581.81 716.90 L583.81 716.90 L585.81 716.90 L587.82 716.90 L589.82 716.90 L591.82 716.90 L593.83 716.90 L595.83 716.90 L597.83 716.90 L599.84 716.90 L601.84 716.90 L603.84 716.90 L605.85 716.90 L607.85 716.90 L609.86 716.90 L611.86 716.90 L613.86 716.90 L615.87 716.90 L617.87 716.90 L619.87 716.90 L621.88 716.90 L623.88 716.90 L625.88 716.90 L627.89 716.90 L629.89 716.90 L631.89 716.90 L633.90 716.90 L635.90 716.90 L637.91 716.90 L639.91 716.90 L641.91 716.90 L643.92 716.90 L645.92 716.90 L647.92 716.90 L649.93 716.90 L651.93 716.90 L653.93 716.90 L655.94 716.90 L657.94 716.90 L659.94 716.90 L661.95 716.90 L663.95 716.90 L665.96 716.90 L667.96 716.90 L669.96 716.90 L671.97 716.90 L673.97 716.90 L675.97 716.90 L677.98 716.90 L679.98 716.90 L681.98 716.90 L683.99 716.90 L685.99 716.90 L687.99 716.90 L690.00 716.90 L691.00 716.90" fill="none" stroke="#000000" stroke-width="2.70" stroke-dasharray="5 6.6" stroke-linecap="round"/>
<path d="M71.70 1101.10 L72.23 1101.05 L72.75 1100.89 L73.26 1100.63 L73.77 1100.27 L74.27 1099.82 L74.77 1099.29 L75.26 1098.66 L75.75 1097.96 L76.23 1097.18 L76.70 1096.33 L77.17 1095.41 L77.63 1094.42 L78.08 1093.37 L78.53 1092.26 L78.98 1091.10 L79.42 1089.90 L79.85 1088.64 L80.27 1087.35 L80.69 1086.02 L81.11 1084.65 L81.52 1083.25 L81.92 1081.83 L82.32 1080.39 L82.71 1078.93 L83.09 1077.46 L83.47 1075.97 L83.85 1074.48 L84.21 1072.99 L84.57 1071.50 L84.93 1070.02 L85.39 1068.07 L85.83 1066.11 L86.27 1064.16 L86.70 1062.20 L87.13 1060.24 L87.56 1058.28 L87.99 1056.33 L88.42 1054.37 L88.85 1052.41 L89.28 1050.46 L89.72 1048.50 L90.15 1046.54 L90.58 1044.59 L91.02 1042.63 L91.45 1040.68 L91.88 1038.72 L92.32 1036.76 L92.75 1034.81 L93.19 1032.85 L93.62 1030.89 L94.06 1028.94 L94.49 1026.98 L94.93 1025.03 L95.37 1023.07 L95.80 1021.12 L96.24 1019.16 L96.68 1017.21 L97.12 1015.25 L97.57 1013.30 L98.01 1011.34 L98.45 1009.39 L98.90 1007.44 L99.35 1005.48 L99.80 1003.53 L100.25 1001.58 L100.70 999.63 L101.15 997.68 L101.61 995.72 L102.07 993.77 L102.53 991.82 L102.99 989.87 L103.46 987.92 L103.92 985.98 L104.39 984.03 L104.87 982.08 L105.34 980.13 L105.82 978.19 L106.30 976.24 L106.78 974.30 L107.27 972.35 L107.76 970.41 L108.25 968.47 L108.74 966.53 L109.24 964.59 L109.75 962.65 L110.25 960.71 L110.76 958.77 L111.27 956.83 L111.79 954.90 L112.31 952.96 L112.83 951.03 L113.36 949.09 L113.89 947.16 L114.43 945.23 L114.96 943.30 L115.51 941.37 L116.06 939.45 L116.61 937.52 L117.17 935.59 L117.73 933.67 L118.29 931.75 L118.86 929.83 L119.43 927.91 L120.01 925.99 L120.59 924.07 L121.17 922.15 L121.76 920.24 L122.35 918.32 L122.95 916.41 L123.55 914.50 L124.15 912.59 L124.76 910.68 L125.37 908.77 L125.98 906.86 L126.60 904.95 L127.22 903.05 L127.84 901.14 L128.47 899.24 L129.10 897.34 L129.73 895.44 L130.37 893.54 L131.01 891.64 L131.65 889.74 L132.30 887.85 L132.95 885.95 L133.60 884.06 L134.25 882.16 L134.91 880.27 L135.58 878.38 L136.24 876.49 L136.92 874.60 L137.59 872.72 L138.27 870.83 L138.96 868.95 L139.65 867.07 L140.35 865.19 L141.05 863.31 L141.76 861.44 L142.47 859.57 L143.19 857.70 L143.92 855.83 L144.66 853.97 L145.40 852.10 L146.15 850.25 L146.90 848.39 L147.67 846.54 L148.44 844.69 L149.22 842.85 L150.01 841.00 L150.81 839.17 L151.62 837.33 L152.44 835.50 L153.26 833.68 L154.10 831.86 L154.94 830.04 L155.80 828.23 L156.67 826.42 L157.54 824.62 L158.43 822.82 L159.33 821.03 L160.24 819.25 L161.17 817.47 L162.11 815.70 L163.05 813.94 L164.02 812.18 L164.99 810.43 L165.98 808.68 L166.98 806.95 L168.00 805.22 L169.03 803.50 L170.07 801.79 L171.13 800.09 L172.20 798.40 L173.29 796.72 L174.40 795.05 L175.52 793.39 L176.66 791.74 L177.81 790.10 L178.98 788.47 L180.17 786.86 L181.37 785.26 L182.60 783.67 L183.83 782.09 L185.09 780.53 L186.37 778.99 L187.66 777.46 L188.97 775.94 L190.30 774.45 L191.65 772.97 L193.02 771.50 L194.41 770.06 L195.82 768.63 L197.24 767.22 L198.69 765.83 L200.15 764.46 L201.63 763.12 L203.14 761.79 L204.66 760.49 L206.20 759.21 L207.76 757.95 L209.34 756.72 L210.93 755.51 L212.55 754.32 L214.18 753.15 L215.83 752.01 L217.49 750.90 L219.17 749.80 L220.86 748.73 L222.57 747.69 L224.30 746.67 L226.04 745.67 L227.79 744.70 L229.56 743.76 L231.33 742.83 L233.13 741.94 L234.93 741.07 L236.75 740.22 L238.58 739.40 L240.42 738.61 L242.27 737.84 L244.13 737.10 L246.00 736.38 L247.88 735.68 L249.77 735.01 L251.66 734.37 L253.57 733.74 L255.48 733.14 L257.39 732.56 L259.32 732.00 L261.25 731.46 L263.18 730.93 L265.12 730.43 L267.06 729.94 L269.01 729.47 L270.96 729.02 L272.92 728.58 L274.88 728.15 L276.84 727.74 L278.80 727.34 L280.77 726.96 L282.74 726.58 L284.71 726.22 L286.68 725.87 L288.65 725.52 L290.63 725.19 L292.61 724.86 L294.59 724.55 L296.57 724.24 L298.55 723.95 L300.53 723.66 L302.52 723.38 L304.50 723.11 L306.49 722.85 L308.47 722.60 L310.46 722.36 L312.45 722.12 L314.44 721.89 L316.44 721.67 L318.43 721.46 L320.42 721.25 L322.42 721.06 L324.41 720.87 L326.41 720.68 L328.40 720.51 L330.40 720.34 L332.40 720.17 L334.39 720.02 L336.39 719.87 L338.39 719.73 L340.39 719.59 L342.39 719.46 L344.39 719.33 L346.39 719.21 L348.39 719.10 L350.39 718.99 L352.39 718.88 L354.39 718.78 L356.39 718.69 L358.39 718.60 L360.40 718.51 L362.40 718.43 L364.40 718.36 L366.40 718.29 L368.41 718.22 L370.41 718.16 L372.41 718.09 L374.41 718.04 L376.42 717.99 L378.42 717.94 L380.42 717.89 L382.43 717.84 L384.43 717.80 L386.43 717.77 L388.44 717.73 L390.44 717.70 L392.44 717.67 L394.45 717.64 L396.45 717.61 L398.46 717.59 L400.46 717.56 L402.46 717.54 L404.47 717.52 L406.47 717.50 L408.47 717.49 L410.48 717.47 L412.48 717.45 L414.48 717.44 L416.49 717.43 L418.49 717.41 L420.50 717.40 L422.50 717.38 L424.50 717.37 L426.51 717.36 L428.51 717.35 L430.51 717.33 L432.52 717.32 L434.52 717.31 L436.53 717.30 L438.53 717.29 L440.53 717.27 L442.54 717.26 L444.54 717.25 L446.54 717.24 L448.55 717.23 L450.55 717.22 L452.55 717.21 L454.56 717.20 L456.56 717.19 L458.57 717.18 L460.57 717.17 L462.57 717.16 L464.58 717.15 L466.58 717.14 L468.58 717.13 L470.59 717.12 L472.59 717.12 L474.60 717.11 L476.60 717.10 L478.60 717.09 L480.61 717.08 L482.61 717.08 L484.61 717.07 L486.62 717.06 L488.62 717.05 L490.63 717.05 L492.63 717.04 L494.63 717.03 L496.64 717.03 L498.64 717.02 L500.64 717.01 L502.65 717.01 L504.65 717.00 L506.66 716.99 L508.66 716.99 L510.66 716.98 L512.67 716.98 L514.67 716.97 L516.67 716.97 L518.68 716.96 L520.68 716.96 L522.69 716.95 L524.69 716.95 L526.69 716.94 L528.70 716.94 L530.70 716.93 L532.70 716.93 L534.71 716.93 L536.71 716.92 L538.72 716.92 L540.72 716.92 L542.72 716.91 L544.73 716.91 L546.73 716.90 L548.73 716.90 L550.74 716.90 L552.74 716.90 L554.75 716.90 L556.75 716.90 L558.75 716.90 L560.76 716.90 L562.76 716.90 L564.76 716.90 L566.77 716.90 L568.77 716.90 L570.78 716.90 L572.78 716.90 L574.78 716.90 L576.79 716.90 L578.79 716.90 L580.79 716.90 L582.80 716.90 L584.80 716.90 L586.81 716.90 L588.81 716.90 L590.81 716.90 L592.82 716.90 L594.82 716.90 L596.82 716.90 L598.83 716.90 L600.83 716.90 L602.84 716.90 L604.84 716.90 L606.84 716.90 L608.85 716.90 L610.85 716.90 L612.85 716.90 L614.86 716.90 L616.86 716.90 L618.87 716.90 L620.87 716.90 L622.87 716.90 L624.88 716.90 L626.88 716.90 L628.88 716.90 L630.89 716.90 L632.89 716.90 L634.90 716.90 L636.90 716.90 L638.90 716.90 L640.91 716.90 L642.91 716.90 L644.91 716.90 L646.92 716.90 L648.92 716.90 L650.93 716.90 L652.93 716.90 L654.93 716.90 L656.94 716.90 L658.94 716.90 L660.94 716.90 L662.95 716.90 L664.95 716.90 L666.96 716.90 L668.96 716.90 L670.96 716.90 L672.97 716.90 L674.97 716.90 L676.97 716.90 L678.98 716.90 L680.98 716.90 L682.99 716.90 L684.99 716.90 L686.99 716.90 L689.00 716.90 L691.00 716.90" fill="none" stroke="#2942ff" stroke-width="2.45" stroke-linecap="round"/>
<text class="tk" text-anchor="end" transform="translate(47.10 1114.40) scale(0.950 1)">0.0</text>
<text class="tk" text-anchor="end" transform="translate(47.10 922.10) scale(0.950 1)">0.5</text>
<text class="tk" text-anchor="end" transform="translate(47.10 729.80) scale(0.950 1)">1.0</text>
<text class="tk" text-anchor="middle" transform="translate(72.00 1159.40) scale(0.950 1)">0</text>
<text class="tk" text-anchor="middle" transform="translate(337.90 1159.40) scale(0.950 1)">50</text>
<text class="tk" text-anchor="middle" transform="translate(603.80 1159.40) scale(0.950 1)">100</text>
<text class="ti" text-anchor="middle" x="417.37" y="1213.20">Time (min)</text>
<text class="pl" x="92.00" y="668.70">(b)</text>
<path d="M256.20 924.60 H305.80" stroke="#2942ff" stroke-width="2.70" fill="none"/>
<text class="lg" transform="translate(332.70 937.40) scale(1.000 1)">Fraction permeated drug</text>
<path d="M257.30 986.80 H304.60" stroke="#000000" stroke-width="2.70" fill="none" stroke-linecap="round" stroke-dasharray="5 6.6" stroke-dashoffset="1.1"/>
<text class="lg" transform="translate(332.70 999.60) scale(0.986 1)">Fraction dissolved</text>
<path d="M257.30 1049.00 H304.60" stroke="#ff0000" stroke-width="2.70" fill="none" stroke-linecap="round" stroke-dasharray="5 6.6" stroke-dashoffset="1.1"/>
<text class="lg" transform="translate(332.70 1061.80) scale(1.000 1)">Fraction dissolved (sink)</text>
</g>
<g>
<g stroke="#000" fill="none" stroke-linecap="butt">
<path stroke-width="4.60" d="M87.60 1290.52 V1756.30"/>
<path stroke-width="4.60" d="M85.30 1754.00 H781.30"/>
<path stroke-width="4.40" d="M87.60 1754.00 H67.70M87.60 1734.78 H76.90M87.60 1715.56 H76.90M87.60 1696.34 H76.90M87.60 1677.12 H76.90M87.60 1657.90 H76.90M87.60 1638.68 H76.90M87.60 1619.46 H76.90M87.60 1600.24 H76.90M87.60 1581.02 H76.90M87.60 1561.80 H67.70M87.60 1542.58 H76.90M87.60 1523.36 H76.90M87.60 1504.14 H76.90M87.60 1484.92 H76.90M87.60 1465.70 H76.90M87.60 1446.48 H76.90M87.60 1427.26 H76.90M87.60 1408.04 H76.90M87.60 1388.82 H76.90M87.60 1369.60 H67.70M87.60 1350.38 H76.90M87.60 1331.16 H76.90M87.60 1311.94 H76.90M87.60 1292.72 H76.90M87.60 1754.00 V1773.40M110.65 1754.00 V1764.40M133.70 1754.00 V1764.40M156.75 1754.00 V1764.40M179.80 1754.00 V1764.40M202.85 1754.00 V1764.40M225.90 1754.00 V1764.40M248.95 1754.00 V1764.40M272.00 1754.00 V1764.40M295.05 1754.00 V1764.40M318.10 1754.00 V1773.40M341.15 1754.00 V1764.40M364.20 1754.00 V1764.40M387.25 1754.00 V1764.40M410.30 1754.00 V1764.40M433.35 1754.00 V1764.40M456.40 1754.00 V1764.40M479.45 1754.00 V1764.40M502.50 1754.00 V1764.40M525.55 1754.00 V1764.40M548.60 1754.00 V1773.40M571.65 1754.00 V1764.40M594.70 1754.00 V1764.40M617.75 1754.00 V1764.40M640.80 1754.00 V1764.40M663.85 1754.00 V1764.40M686.90 1754.00 V1764.40M709.95 1754.00 V1764.40M733.00 1754.00 V1764.40M756.05 1754.00 V1764.40M779.10 1754.00 V1773.40"/>
</g>
<path d="M87.60 1754.00 L87.73 1752.00 L87.87 1750.00 L88.01 1748.00 L88.14 1746.00 L88.28 1744.00 L88.42 1742.00 L88.56 1740.00 L88.70 1738.00 L88.85 1736.00 L88.99 1734.01 L89.14 1732.01 L89.28 1730.01 L89.43 1728.01 L89.58 1726.01 L89.73 1724.01 L89.88 1722.01 L90.03 1720.01 L90.19 1718.02 L90.34 1716.02 L90.50 1714.02 L90.65 1712.02 L90.81 1710.02 L90.97 1708.02 L91.14 1706.03 L91.30 1704.03 L91.46 1702.03 L91.63 1700.03 L91.80 1698.04 L91.96 1696.04 L92.13 1694.04 L92.31 1692.05 L92.48 1690.05 L92.65 1688.05 L92.83 1686.06 L93.01 1684.06 L93.19 1682.06 L93.37 1680.07 L93.55 1678.07 L93.73 1676.08 L93.92 1674.08 L94.11 1672.08 L94.30 1670.09 L94.49 1668.09 L94.68 1666.10 L94.87 1664.10 L95.07 1662.11 L95.27 1660.11 L95.47 1658.12 L95.67 1656.13 L95.87 1654.13 L96.08 1652.14 L96.28 1650.14 L96.49 1648.15 L96.70 1646.16 L96.91 1644.16 L97.13 1642.17 L97.34 1640.18 L97.56 1638.19 L97.78 1636.19 L98.00 1634.20 L98.23 1632.21 L98.45 1630.22 L98.68 1628.23 L98.91 1626.24 L99.14 1624.25 L99.38 1622.26 L99.61 1620.27 L99.85 1618.27 L100.09 1616.29 L100.33 1614.30 L100.58 1612.31 L100.82 1610.32 L101.07 1608.33 L101.32 1606.34 L101.58 1604.35 L101.83 1602.36 L102.09 1600.38 L102.35 1598.39 L102.61 1596.40 L102.88 1594.41 L103.15 1592.43 L103.41 1590.44 L103.69 1588.46 L103.96 1586.47 L104.24 1584.49 L104.52 1582.50 L104.80 1580.52 L105.08 1578.53 L105.37 1576.55 L105.66 1574.57 L105.95 1572.58 L106.24 1570.60 L106.54 1568.62 L106.83 1566.64 L107.14 1564.65 L107.44 1562.67 L107.75 1560.69 L108.05 1558.71 L108.37 1556.73 L108.68 1554.75 L109.00 1552.77 L109.32 1550.79 L109.64 1548.82 L109.97 1546.84 L110.30 1544.86 L110.63 1542.89 L110.97 1540.91 L111.32 1538.94 L111.67 1536.96 L112.02 1534.99 L112.38 1533.02 L112.74 1531.05 L113.12 1529.08 L113.49 1527.11 L113.87 1525.14 L114.26 1523.17 L114.66 1521.21 L115.06 1519.25 L115.47 1517.28 L115.89 1515.32 L116.32 1513.37 L116.75 1511.41 L117.19 1509.45 L117.64 1507.50 L118.10 1505.55 L118.56 1503.60 L119.04 1501.65 L119.52 1499.71 L120.02 1497.77 L120.52 1495.83 L121.04 1493.89 L121.56 1491.95 L122.09 1490.02 L122.64 1488.09 L123.19 1486.17 L123.76 1484.24 L124.34 1482.33 L124.93 1480.41 L125.53 1478.50 L126.14 1476.59 L126.76 1474.68 L127.40 1472.78 L128.04 1470.89 L128.70 1468.99 L129.37 1467.10 L130.06 1465.22 L130.76 1463.34 L131.47 1461.47 L132.20 1459.60 L132.94 1457.74 L133.70 1455.88 L134.47 1454.04 L135.27 1452.20 L136.08 1450.36 L136.91 1448.54 L137.76 1446.72 L138.64 1444.92 L139.53 1443.13 L140.45 1441.34 L141.38 1439.57 L142.35 1437.82 L143.33 1436.07 L144.35 1434.34 L145.38 1432.63 L146.45 1430.93 L147.54 1429.24 L148.65 1427.58 L149.79 1425.93 L150.96 1424.30 L152.15 1422.69 L153.37 1421.10 L154.61 1419.53 L155.88 1417.98 L157.18 1416.45 L158.51 1414.95 L159.86 1413.46 L161.23 1412.01 L162.64 1410.58 L164.07 1409.18 L165.53 1407.80 L167.01 1406.45 L168.52 1405.13 L170.06 1403.85 L171.62 1402.59 L173.21 1401.37 L174.83 1400.19 L176.47 1399.04 L178.13 1397.92 L179.82 1396.84 L181.53 1395.79 L183.25 1394.77 L185.00 1393.79 L186.77 1392.85 L188.55 1391.93 L190.35 1391.05 L192.17 1390.20 L194.00 1389.38 L195.84 1388.59 L197.69 1387.83 L199.56 1387.10 L201.44 1386.40 L203.32 1385.72 L205.22 1385.07 L207.13 1384.45 L209.04 1383.85 L210.96 1383.28 L212.89 1382.72 L214.82 1382.20 L216.76 1381.69 L218.70 1381.20 L220.65 1380.74 L222.61 1380.29 L224.56 1379.86 L226.53 1379.45 L228.49 1379.06 L230.46 1378.68 L232.43 1378.32 L234.41 1377.98 L236.38 1377.65 L238.36 1377.33 L240.34 1377.03 L242.33 1376.74 L244.31 1376.46 L246.30 1376.19 L248.29 1375.93 L250.27 1375.69 L252.26 1375.45 L254.26 1375.22 L256.25 1375.00 L258.24 1374.78 L260.23 1374.58 L262.23 1374.38 L264.22 1374.18 L266.22 1373.99 L268.21 1373.81 L270.21 1373.64 L272.21 1373.47 L274.21 1373.30 L276.20 1373.14 L278.20 1372.99 L280.20 1372.84 L282.20 1372.69 L284.20 1372.56 L286.20 1372.42 L288.20 1372.29 L290.20 1372.17 L292.20 1372.05 L294.20 1371.94 L296.20 1371.83 L298.20 1371.72 L300.21 1371.62 L302.21 1371.53 L304.21 1371.44 L306.21 1371.35 L308.22 1371.27 L310.22 1371.19 L312.22 1371.11 L314.22 1371.04 L316.23 1370.97 L318.23 1370.90 L320.23 1370.84 L322.24 1370.78 L324.24 1370.73 L326.24 1370.68 L328.25 1370.63 L330.25 1370.58 L332.26 1370.54 L334.26 1370.49 L336.26 1370.45 L338.27 1370.42 L340.27 1370.38 L342.28 1370.35 L344.28 1370.32 L346.28 1370.29 L348.29 1370.27 L350.29 1370.24 L352.30 1370.22 L354.30 1370.20 L356.30 1370.18 L358.31 1370.16 L360.31 1370.14 L362.32 1370.12 L364.32 1370.11 L366.33 1370.09 L368.33 1370.08 L370.33 1370.06 L372.34 1370.05 L374.34 1370.03 L376.35 1370.02 L378.35 1370.01 L380.36 1369.99 L382.36 1369.98 L384.36 1369.97 L386.37 1369.96 L388.37 1369.94 L390.38 1369.93 L392.38 1369.92 L394.39 1369.91 L396.39 1369.90 L398.39 1369.89 L400.40 1369.87 L402.40 1369.86 L404.41 1369.85 L406.41 1369.84 L408.42 1369.83 L410.42 1369.82 L412.42 1369.81 L414.43 1369.80 L416.43 1369.79 L418.44 1369.78 L420.44 1369.77 L422.45 1369.76 L424.45 1369.75 L426.45 1369.74 L428.46 1369.73 L430.46 1369.73 L432.47 1369.72 L434.47 1369.71 L436.48 1369.70 L438.48 1369.69 L440.48 1369.68 L442.49 1369.68 L444.49 1369.67 L446.50 1369.66 L448.50 1369.65 L450.51 1369.65 L452.51 1369.64 L454.51 1369.63 L456.52 1369.62 L458.52 1369.62 L460.53 1369.61 L462.53 1369.60 L464.54 1369.60 L466.54 1369.59 L468.54 1369.59 L470.55 1369.58 L472.55 1369.57 L474.56 1369.57 L476.56 1369.56 L478.57 1369.56 L480.57 1369.55 L482.57 1369.55 L484.58 1369.54 L486.58 1369.54 L488.59 1369.53 L490.59 1369.53 L492.60 1369.52 L494.60 1369.52 L496.60 1369.51 L498.61 1369.51 L500.61 1369.50 L502.62 1369.50 L504.62 1369.50 L506.63 1369.50 L508.63 1369.50 L510.63 1369.50 L512.64 1369.50 L514.64 1369.50 L516.65 1369.50 L518.65 1369.50 L520.66 1369.50 L522.66 1369.50 L524.66 1369.50 L526.67 1369.50 L528.67 1369.50 L530.68 1369.50 L532.68 1369.50 L534.69 1369.50 L536.69 1369.50 L538.69 1369.50 L540.70 1369.50 L542.70 1369.50 L544.71 1369.50 L546.71 1369.50 L548.72 1369.50 L550.72 1369.50 L552.72 1369.50 L554.73 1369.50 L556.73 1369.50 L558.74 1369.50 L560.74 1369.50 L562.75 1369.50 L564.75 1369.50 L566.75 1369.50 L568.76 1369.50 L570.76 1369.50 L572.77 1369.50 L574.77 1369.50 L576.78 1369.50 L578.78 1369.50 L580.78 1369.50 L582.79 1369.50 L584.79 1369.50 L586.80 1369.50 L588.80 1369.50 L590.81 1369.50 L592.81 1369.50 L594.81 1369.50 L596.82 1369.50 L598.82 1369.50 L600.83 1369.50 L602.83 1369.50 L604.84 1369.50 L606.84 1369.50 L608.84 1369.50 L610.85 1369.50 L612.85 1369.50 L614.86 1369.50 L616.86 1369.50 L618.87 1369.50 L620.87 1369.50 L622.88 1369.50 L624.88 1369.50 L626.88 1369.50 L628.89 1369.50 L630.89 1369.50 L632.90 1369.50 L634.90 1369.50 L636.91 1369.50 L638.91 1369.50 L640.91 1369.50 L642.92 1369.50 L644.92 1369.50 L646.93 1369.50 L648.93 1369.50 L650.94 1369.50 L652.94 1369.50 L654.94 1369.50 L656.95 1369.50 L658.95 1369.50 L660.96 1369.50 L662.96 1369.50 L664.97 1369.50 L666.97 1369.50 L668.97 1369.50 L670.98 1369.50 L672.98 1369.50 L674.99 1369.50 L676.99 1369.50 L679.00 1369.50 L681.00 1369.50" fill="none" stroke="#ff0000" stroke-width="2.70" stroke-dasharray="5 6.6" stroke-linecap="round"/>
<path d="M87.60 1754.00 L87.75 1752.00 L87.90 1750.01 L88.05 1748.01 L88.20 1746.01 L88.35 1744.02 L88.50 1742.02 L88.65 1740.02 L88.81 1738.03 L88.96 1736.03 L89.12 1734.03 L89.28 1732.04 L89.44 1730.04 L89.60 1728.05 L89.76 1726.05 L89.92 1724.06 L90.09 1722.06 L90.25 1720.06 L90.42 1718.07 L90.59 1716.07 L90.77 1714.08 L90.94 1712.09 L91.11 1710.09 L91.29 1708.10 L91.47 1706.10 L91.65 1704.11 L91.83 1702.11 L92.02 1700.12 L92.21 1698.13 L92.39 1696.13 L92.59 1694.14 L92.78 1692.15 L92.98 1690.15 L93.17 1688.16 L93.37 1686.17 L93.58 1684.18 L93.78 1682.19 L93.99 1680.19 L94.20 1678.20 L94.41 1676.21 L94.63 1674.22 L94.84 1672.23 L95.07 1670.24 L95.29 1668.25 L95.51 1666.26 L95.74 1664.27 L95.98 1662.28 L96.21 1660.30 L96.45 1658.31 L96.69 1656.32 L96.93 1654.33 L97.18 1652.35 L97.43 1650.36 L97.68 1648.37 L97.94 1646.39 L98.20 1644.40 L98.46 1642.42 L98.73 1640.43 L99.00 1638.45 L99.27 1636.46 L99.55 1634.48 L99.83 1632.50 L100.11 1630.52 L100.40 1628.54 L100.69 1626.55 L100.99 1624.57 L101.29 1622.59 L101.59 1620.61 L101.90 1618.64 L102.21 1616.66 L102.52 1614.68 L102.84 1612.70 L103.17 1610.73 L103.49 1608.75 L103.82 1606.78 L104.16 1604.80 L104.50 1602.83 L104.84 1600.86 L105.19 1598.89 L105.54 1596.92 L105.90 1594.95 L106.26 1592.98 L106.63 1591.01 L107.00 1589.04 L107.37 1587.07 L107.75 1585.11 L108.14 1583.14 L108.53 1581.18 L108.92 1579.21 L109.32 1577.25 L109.72 1575.29 L110.13 1573.33 L110.55 1571.37 L110.97 1569.41 L111.39 1567.46 L111.82 1565.50 L112.25 1563.55 L112.69 1561.59 L113.14 1559.64 L113.59 1557.69 L114.04 1555.74 L114.50 1553.79 L114.97 1551.84 L115.44 1549.90 L115.92 1547.95 L116.40 1546.01 L116.89 1544.07 L117.39 1542.13 L117.89 1540.19 L118.40 1538.26 L118.92 1536.32 L119.44 1534.39 L119.98 1532.46 L120.52 1530.53 L121.06 1528.60 L121.62 1526.68 L122.18 1524.76 L122.75 1522.84 L123.34 1520.92 L123.93 1519.01 L124.52 1517.10 L125.13 1515.19 L125.75 1513.29 L126.37 1511.39 L127.01 1509.49 L127.65 1507.59 L128.31 1505.70 L128.97 1503.81 L129.65 1501.93 L130.34 1500.04 L131.03 1498.17 L131.74 1496.29 L132.46 1494.43 L133.19 1492.56 L133.93 1490.70 L134.68 1488.84 L135.44 1486.99 L136.22 1485.15 L137.00 1483.31 L137.80 1481.47 L138.61 1479.64 L139.43 1477.81 L140.27 1475.99 L141.12 1474.18 L141.98 1472.37 L142.85 1470.57 L143.73 1468.77 L144.63 1466.98 L145.54 1465.20 L146.47 1463.42 L147.40 1461.65 L148.36 1459.89 L149.32 1458.14 L150.30 1456.39 L151.30 1454.66 L152.31 1452.93 L153.34 1451.21 L154.38 1449.50 L155.44 1447.80 L156.51 1446.11 L157.60 1444.43 L158.71 1442.76 L159.83 1441.10 L160.97 1439.46 L162.13 1437.82 L163.31 1436.20 L164.50 1434.60 L165.71 1433.00 L166.95 1431.43 L168.20 1429.86 L169.46 1428.31 L170.75 1426.78 L172.06 1425.27 L173.39 1423.77 L174.74 1422.29 L176.11 1420.82 L177.49 1419.38 L178.90 1417.96 L180.33 1416.56 L181.78 1415.18 L183.25 1413.82 L184.75 1412.48 L186.26 1411.17 L187.79 1409.88 L189.34 1408.62 L190.92 1407.38 L192.51 1406.17 L194.13 1404.99 L195.76 1403.83 L197.42 1402.70 L199.09 1401.60 L200.78 1400.52 L202.48 1399.47 L204.20 1398.45 L205.94 1397.45 L207.69 1396.48 L209.45 1395.53 L211.23 1394.61 L213.02 1393.71 L214.82 1392.84 L216.63 1391.99 L218.46 1391.16 L220.29 1390.37 L222.14 1389.59 L224.00 1388.84 L225.86 1388.11 L227.74 1387.41 L229.62 1386.74 L231.52 1386.09 L233.42 1385.46 L235.33 1384.87 L237.25 1384.29 L239.18 1383.75 L241.11 1383.22 L243.05 1382.72 L244.99 1382.24 L246.94 1381.78 L248.89 1381.34 L250.85 1380.92 L252.81 1380.52 L254.78 1380.13 L256.74 1379.76 L258.71 1379.41 L260.69 1379.07 L262.66 1378.74 L264.64 1378.43 L266.62 1378.13 L268.60 1377.84 L270.59 1377.56 L272.57 1377.29 L274.55 1377.03 L276.54 1376.78 L278.53 1376.53 L280.52 1376.29 L282.50 1376.06 L284.49 1375.83 L286.48 1375.61 L288.47 1375.40 L290.47 1375.19 L292.46 1374.99 L294.45 1374.79 L296.44 1374.60 L298.44 1374.42 L300.43 1374.24 L302.43 1374.06 L304.42 1373.89 L306.42 1373.73 L308.41 1373.57 L310.41 1373.42 L312.41 1373.27 L314.40 1373.12 L316.40 1372.98 L318.40 1372.85 L320.40 1372.72 L322.39 1372.59 L324.39 1372.47 L326.39 1372.36 L328.39 1372.24 L330.39 1372.14 L332.39 1372.03 L334.39 1371.93 L336.39 1371.83 L338.39 1371.74 L340.39 1371.65 L342.39 1371.57 L344.39 1371.48 L346.39 1371.40 L348.39 1371.33 L350.39 1371.25 L352.40 1371.18 L354.40 1371.12 L356.40 1371.05 L358.40 1370.99 L360.40 1370.93 L362.40 1370.88 L364.40 1370.82 L366.40 1370.77 L368.41 1370.72 L370.41 1370.68 L372.41 1370.63 L374.41 1370.59 L376.41 1370.55 L378.42 1370.51 L380.42 1370.47 L382.42 1370.44 L384.42 1370.40 L386.42 1370.37 L388.43 1370.34 L390.43 1370.31 L392.43 1370.28 L394.43 1370.25 L396.43 1370.23 L398.44 1370.20 L400.44 1370.18 L402.44 1370.15 L404.44 1370.13 L406.44 1370.11 L408.45 1370.08 L410.45 1370.06 L412.45 1370.04 L414.45 1370.02 L416.46 1370.00 L418.46 1369.98 L420.46 1369.96 L422.46 1369.94 L424.46 1369.92 L426.47 1369.90 L428.47 1369.89 L430.47 1369.87 L432.47 1369.85 L434.48 1369.84 L436.48 1369.82 L438.48 1369.81 L440.48 1369.79 L442.48 1369.78 L444.49 1369.76 L446.49 1369.75 L448.49 1369.74 L450.49 1369.73 L452.50 1369.71 L454.50 1369.70 L456.50 1369.69 L458.50 1369.68 L460.50 1369.67 L462.51 1369.66 L464.51 1369.65 L466.51 1369.64 L468.51 1369.63 L470.52 1369.62 L472.52 1369.61 L474.52 1369.61 L476.52 1369.60 L478.52 1369.60 L480.53 1369.60 L482.53 1369.60 L484.53 1369.60 L486.53 1369.60 L488.54 1369.60 L490.54 1369.60 L492.54 1369.60 L494.54 1369.60 L496.55 1369.60 L498.55 1369.60 L500.55 1369.60 L502.55 1369.60 L504.55 1369.60 L506.56 1369.60 L508.56 1369.60 L510.56 1369.60 L512.56 1369.60 L514.57 1369.60 L516.57 1369.60 L518.57 1369.60 L520.57 1369.60 L522.58 1369.60 L524.58 1369.60 L526.58 1369.60 L528.58 1369.60 L530.58 1369.60 L532.59 1369.60 L534.59 1369.60 L536.59 1369.60 L538.59 1369.60 L540.60 1369.60 L542.60 1369.60 L544.60 1369.60 L546.60 1369.60 L548.60 1369.60 L550.61 1369.60 L552.61 1369.60 L554.61 1369.60 L556.61 1369.60 L558.62 1369.60 L560.62 1369.60 L562.62 1369.60 L564.62 1369.60 L566.63 1369.60 L568.63 1369.60 L570.63 1369.60 L572.63 1369.60 L574.63 1369.60 L576.64 1369.60 L578.64 1369.60 L580.64 1369.60 L582.64 1369.60 L584.65 1369.60 L586.65 1369.60 L588.65 1369.60 L590.65 1369.60 L592.66 1369.60 L594.66 1369.60 L596.66 1369.60 L598.66 1369.60 L600.66 1369.60 L602.67 1369.60 L604.67 1369.60 L606.67 1369.60 L608.67 1369.60 L610.68 1369.60 L612.68 1369.60 L614.68 1369.60 L616.68 1369.60 L618.68 1369.60 L620.69 1369.60 L622.69 1369.60 L624.69 1369.60 L626.69 1369.60 L628.70 1369.60 L630.70 1369.60 L632.70 1369.60 L634.70 1369.60 L636.71 1369.60 L638.71 1369.60 L640.71 1369.60 L642.71 1369.60 L644.71 1369.60 L646.72 1369.60 L648.72 1369.60 L650.72 1369.60 L652.72 1369.60 L654.73 1369.60 L656.73 1369.60 L658.73 1369.60 L660.73 1369.60 L662.73 1369.60 L664.74 1369.60 L666.74 1369.60 L668.74 1369.60 L670.74 1369.60 L672.75 1369.60 L674.75 1369.60 L676.75 1369.60 L678.75 1369.60 L680.76 1369.60 L682.76 1369.60 L684.76 1369.60 L686.76 1369.60 L688.76 1369.60 L690.77 1369.60 L692.77 1369.60 L694.77 1369.60 L696.77 1369.60 L698.78 1369.60 L700.78 1369.60 L702.78 1369.60 L704.78 1369.60 L706.79 1369.60 L708.79 1369.60 L710.79 1369.60 L712.79 1369.60 L714.79 1369.60 L716.80 1369.60 L718.80 1369.60 L719.80 1369.60" fill="none" stroke="#000000" stroke-width="2.70" stroke-dasharray="5 6.6" stroke-linecap="round"/>
<path d="M87.60 1754.00 L88.19 1753.97 L88.76 1753.87 L89.31 1753.71 L89.85 1753.49 L90.36 1753.21 L90.87 1752.88 L91.36 1752.50 L91.83 1752.06 L92.29 1751.58 L92.75 1751.04 L93.19 1750.47 L93.62 1749.85 L94.04 1749.20 L94.46 1748.50 L94.87 1747.77 L95.27 1747.01 L95.67 1746.22 L96.07 1745.40 L96.46 1744.56 L96.85 1743.69 L97.25 1742.80 L97.64 1741.89 L98.03 1740.96 L98.43 1740.02 L98.83 1739.06 L99.24 1738.10 L99.65 1737.13 L100.06 1736.15 L100.49 1735.17 L100.92 1734.19 L101.72 1732.35 L102.48 1730.50 L103.22 1728.64 L103.93 1726.76 L104.62 1724.88 L105.29 1723.00 L105.96 1721.11 L106.61 1719.22 L107.26 1717.32 L107.90 1715.42 L108.53 1713.52 L109.15 1711.62 L109.77 1709.72 L110.39 1707.81 L111.00 1705.90 L111.60 1703.99 L112.20 1702.08 L112.80 1700.17 L113.40 1698.26 L113.99 1696.35 L114.59 1694.44 L115.18 1692.52 L115.77 1690.61 L116.36 1688.69 L116.95 1686.78 L117.54 1684.87 L118.13 1682.96 L118.73 1681.04 L119.33 1679.13 L119.93 1677.22 L120.53 1675.31 L121.14 1673.40 L121.75 1671.50 L122.36 1669.59 L122.98 1667.69 L123.60 1665.78 L124.22 1663.88 L124.85 1661.97 L125.48 1660.07 L126.11 1658.17 L126.74 1656.27 L127.38 1654.37 L128.02 1652.48 L128.66 1650.58 L129.30 1648.68 L129.95 1646.79 L130.59 1644.89 L131.24 1643.00 L131.90 1641.10 L132.55 1639.21 L133.21 1637.32 L133.86 1635.43 L134.52 1633.54 L135.18 1631.65 L135.84 1629.76 L136.51 1627.87 L137.17 1625.98 L137.84 1624.09 L138.51 1622.20 L139.18 1620.31 L139.85 1618.43 L140.52 1616.54 L141.19 1614.65 L141.86 1612.77 L142.53 1610.88 L143.21 1608.99 L143.88 1607.11 L144.56 1605.22 L145.23 1603.34 L145.91 1601.45 L146.58 1599.57 L147.25 1597.68 L147.93 1595.79 L148.60 1593.91 L149.28 1592.02 L149.95 1590.14 L150.63 1588.25 L151.30 1586.37 L151.98 1584.48 L152.65 1582.60 L153.32 1580.71 L154.00 1578.82 L154.67 1576.94 L155.35 1575.05 L156.02 1573.17 L156.70 1571.28 L157.37 1569.40 L158.05 1567.51 L158.72 1565.62 L159.39 1563.74 L160.07 1561.85 L160.74 1559.97 L161.42 1558.08 L162.10 1556.20 L162.78 1554.31 L163.46 1552.43 L164.14 1550.55 L164.83 1548.67 L165.52 1546.79 L166.22 1544.91 L166.92 1543.03 L167.62 1541.16 L168.33 1539.29 L169.04 1537.41 L169.76 1535.54 L170.48 1533.68 L171.21 1531.81 L171.94 1529.95 L172.68 1528.09 L173.43 1526.23 L174.18 1524.37 L174.94 1522.52 L175.71 1520.67 L176.49 1518.83 L177.27 1516.98 L178.06 1515.14 L178.86 1513.31 L179.67 1511.48 L180.49 1509.65 L181.32 1507.82 L182.16 1506.01 L183.00 1504.19 L183.86 1502.38 L184.73 1500.58 L185.61 1498.78 L186.50 1496.98 L187.40 1495.19 L188.31 1493.41 L189.23 1491.63 L190.17 1489.86 L191.12 1488.10 L192.07 1486.34 L193.05 1484.59 L194.03 1482.85 L195.03 1481.11 L196.04 1479.38 L197.06 1477.66 L198.10 1475.94 L199.15 1474.24 L200.21 1472.54 L201.29 1470.85 L202.38 1469.17 L203.48 1467.50 L204.60 1465.84 L205.73 1464.19 L206.87 1462.54 L208.03 1460.91 L209.20 1459.28 L210.38 1457.67 L211.58 1456.06 L212.79 1454.47 L214.02 1452.88 L215.26 1451.31 L216.51 1449.75 L217.77 1448.19 L219.05 1446.65 L220.35 1445.12 L221.65 1443.61 L222.97 1442.10 L224.31 1440.61 L225.65 1439.13 L227.02 1437.66 L228.39 1436.20 L229.78 1434.76 L231.19 1433.33 L232.60 1431.92 L234.03 1430.52 L235.48 1429.13 L236.94 1427.76 L238.41 1426.40 L239.90 1425.06 L241.40 1423.74 L242.92 1422.43 L244.45 1421.14 L245.99 1419.86 L247.55 1418.60 L249.12 1417.36 L250.70 1416.13 L252.30 1414.93 L253.91 1413.74 L255.54 1412.57 L257.18 1411.42 L258.83 1410.29 L260.50 1409.18 L262.18 1408.09 L263.88 1407.03 L265.58 1405.98 L267.30 1404.95 L269.04 1403.95 L270.78 1402.97 L272.54 1402.01 L274.31 1401.07 L276.09 1400.16 L277.88 1399.26 L279.68 1398.39 L281.50 1397.54 L283.32 1396.71 L285.15 1395.90 L286.99 1395.11 L288.84 1394.34 L290.70 1393.58 L292.56 1392.85 L294.43 1392.14 L296.31 1391.45 L298.19 1390.77 L300.08 1390.11 L301.98 1389.47 L303.88 1388.84 L305.79 1388.23 L307.71 1387.64 L309.62 1387.07 L311.55 1386.51 L313.47 1385.96 L315.40 1385.43 L317.34 1384.92 L319.28 1384.41 L321.22 1383.93 L323.17 1383.45 L325.12 1382.99 L327.07 1382.54 L329.02 1382.11 L330.98 1381.68 L332.94 1381.27 L334.90 1380.87 L336.86 1380.48 L338.83 1380.10 L340.80 1379.73 L342.77 1379.37 L344.74 1379.02 L346.71 1378.68 L348.69 1378.35 L350.67 1378.03 L352.65 1377.72 L354.63 1377.42 L356.61 1377.12 L358.59 1376.84 L360.57 1376.57 L362.56 1376.30 L364.54 1376.04 L366.53 1375.79 L368.52 1375.55 L370.51 1375.32 L372.50 1375.09 L374.49 1374.87 L376.48 1374.66 L378.47 1374.46 L380.46 1374.27 L382.46 1374.08 L384.45 1373.90 L386.45 1373.72 L388.44 1373.55 L390.44 1373.39 L392.44 1373.24 L394.43 1373.09 L396.43 1372.95 L398.43 1372.81 L400.43 1372.68 L402.43 1372.55 L404.43 1372.43 L406.42 1372.32 L408.42 1372.21 L410.42 1372.10 L412.42 1372.00 L414.42 1371.90 L416.42 1371.81 L418.43 1371.72 L420.43 1371.64 L422.43 1371.56 L424.43 1371.49 L426.43 1371.41 L428.43 1371.35 L430.43 1371.28 L432.43 1371.22 L434.44 1371.16 L436.44 1371.10 L438.44 1371.05 L440.44 1371.00 L442.44 1370.95 L444.45 1370.90 L446.45 1370.86 L448.45 1370.81 L450.45 1370.77 L452.46 1370.73 L454.46 1370.69 L456.46 1370.66 L458.46 1370.62 L460.46 1370.58 L462.47 1370.55 L464.47 1370.52 L466.47 1370.48 L468.47 1370.45 L470.48 1370.42 L472.48 1370.39 L474.48 1370.36 L476.48 1370.33 L478.49 1370.30 L480.49 1370.27 L482.49 1370.24 L484.49 1370.22 L486.50 1370.19 L488.50 1370.17 L490.50 1370.14 L492.50 1370.12 L494.51 1370.09 L496.51 1370.07 L498.51 1370.05 L500.51 1370.03 L502.52 1370.01 L504.52 1369.99 L506.52 1369.97 L508.52 1369.95 L510.53 1369.93 L512.53 1369.91 L514.53 1369.89 L516.53 1369.88 L518.54 1369.86 L520.54 1369.84 L522.54 1369.83 L524.54 1369.81 L526.55 1369.80 L528.55 1369.78 L530.55 1369.77 L532.55 1369.76 L534.56 1369.75 L536.56 1369.73 L538.56 1369.72 L540.56 1369.71 L542.57 1369.70 L544.57 1369.69 L546.57 1369.68 L548.57 1369.67 L550.58 1369.66 L552.58 1369.65 L554.58 1369.65 L556.59 1369.64 L558.59 1369.63 L560.59 1369.62 L562.59 1369.62 L564.60 1369.61 L566.60 1369.61 L568.60 1369.60 L570.60 1369.60 L572.61 1369.60 L574.61 1369.60 L576.61 1369.60 L578.61 1369.60 L580.62 1369.60 L582.62 1369.60 L584.62 1369.60 L586.62 1369.60 L588.63 1369.60 L590.63 1369.60 L592.63 1369.60 L594.64 1369.60 L596.64 1369.60 L598.64 1369.60 L600.64 1369.60 L602.65 1369.60 L604.65 1369.60 L606.65 1369.60 L608.65 1369.60 L610.66 1369.60 L612.66 1369.60 L614.66 1369.60 L616.66 1369.60 L618.67 1369.60 L620.67 1369.60 L622.67 1369.60 L624.67 1369.60 L626.68 1369.60 L628.68 1369.60 L630.68 1369.60 L632.69 1369.60 L634.69 1369.60 L636.69 1369.60 L638.69 1369.60 L640.70 1369.60 L642.70 1369.60 L644.70 1369.60 L646.70 1369.60 L648.71 1369.60 L650.71 1369.60 L652.71 1369.60 L654.71 1369.60 L656.72 1369.60 L658.72 1369.60 L660.72 1369.60 L662.72 1369.60 L664.73 1369.60 L666.73 1369.60 L668.73 1369.60 L670.74 1369.60 L672.74 1369.60 L674.74 1369.60 L676.74 1369.60 L678.75 1369.60 L680.75 1369.60 L682.75 1369.60 L684.75 1369.60 L686.76 1369.60 L688.76 1369.60 L690.76 1369.60 L692.76 1369.60 L694.77 1369.60 L696.77 1369.60 L698.77 1369.60 L700.77 1369.60 L702.78 1369.60 L704.78 1369.60 L706.78 1369.60 L708.79 1369.60 L710.79 1369.60 L712.79 1369.60 L714.79 1369.60 L716.80 1369.60 L718.80 1369.60 L719.80 1369.60" fill="none" stroke="#2942ff" stroke-width="2.45" stroke-linecap="round"/>
<text class="tk" text-anchor="end" transform="translate(63.00 1767.30) scale(0.950 1)">0.0</text>
<text class="tk" text-anchor="end" transform="translate(63.00 1575.10) scale(0.950 1)">0.5</text>
<text class="tk" text-anchor="end" transform="translate(63.00 1382.90) scale(0.950 1)">1.0</text>
<text class="tk" text-anchor="middle" transform="translate(87.90 1812.30) scale(0.950 1)">0</text>
<text class="tk" text-anchor="middle" transform="translate(318.40 1812.30) scale(0.950 1)">50</text>
<text class="tk" text-anchor="middle" transform="translate(548.90 1812.30) scale(0.950 1)">100</text>
<text class="tk" text-anchor="middle" transform="translate(779.40 1812.30) scale(0.950 1)">150</text>
<text class="ti" text-anchor="middle" x="433.35" y="1866.10">Time (min)</text>
<text class="pl" x="110.30" y="1321.80">(c)</text>
<path d="M272.00 1577.60 H321.60" stroke="#2942ff" stroke-width="2.70" fill="none"/>
<text class="lg" transform="translate(349.20 1590.40) scale(1.000 1)">Fraction permeated drug</text>
<path d="M273.10 1639.80 H320.40" stroke="#000000" stroke-width="2.70" fill="none" stroke-linecap="round" stroke-dasharray="5 6.6" stroke-dashoffset="1.1"/>
<text class="lg" transform="translate(349.20 1652.60) scale(0.986 1)">Fraction dissolved</text>
<path d="M273.10 1702.00 H320.40" stroke="#ff0000" stroke-width="2.70" fill="none" stroke-linecap="round" stroke-dasharray="5 6.6" stroke-dashoffset="1.1"/>
<text class="lg" transform="translate(349.20 1714.80) scale(1.000 1)">Fraction dissolved (sink)</text>
</g>
</svg></body></html>
